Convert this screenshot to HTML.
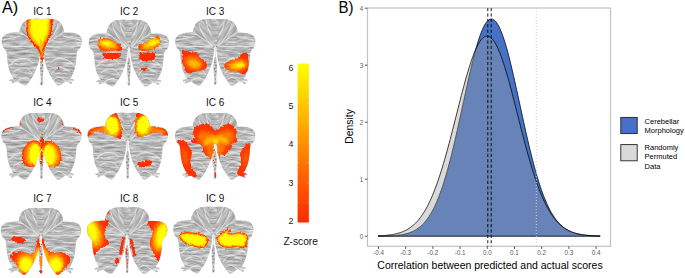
<!DOCTYPE html>
<html><head><meta charset="utf-8"><title>Figure</title>
<style>
html,body{margin:0;padding:0;background:#fff;}
body{width:685px;height:278px;overflow:hidden;}
svg{display:block;}
svg text{font-family:"Liberation Sans",sans-serif;}
</style></head><body>
<svg width="685" height="278" viewBox="0 0 685 278">
<defs>
<linearGradient id="cbg" x1="0" y1="0" x2="0" y2="1">
<stop offset="0" stop-color="#ffff00"/><stop offset="0.25" stop-color="#ffc800"/><stop offset="0.5" stop-color="#ff9000"/><stop offset="0.75" stop-color="#ff5800"/><stop offset="1" stop-color="#ff2a00"/>
</linearGradient>
<filter id="tex" x="-0.02" y="-0.02" width="1.04" height="1.04" color-interpolation-filters="sRGB">
<feTurbulence type="fractalNoise" baseFrequency="0.09 0.55" numOctaves="3" seed="7" result="n"/>
<feColorMatrix in="n" type="matrix" values="0.5 0 0 0 0.48  0.5 0 0 0 0.48  0.5 0 0 0 0.48  0 0 0 0 1" result="g"/>
<feComposite in="g" in2="SourceGraphic" operator="in"/>
</filter>
<filter id="b1" x="-0.5" y="-0.5" width="2" height="2"><feGaussianBlur stdDeviation="1"/></filter>
<filter id="b15" x="-0.5" y="-0.5" width="2" height="2"><feGaussianBlur stdDeviation="1.5"/></filter>
<filter id="b2" x="-0.5" y="-0.5" width="2" height="2"><feGaussianBlur stdDeviation="2.2"/></filter>
<filter id="b05" x="-0.5" y="-0.5" width="2" height="2"><feGaussianBlur stdDeviation="0.5"/></filter>
<filter id="tex2" x="0" y="0" width="1" height="1" color-interpolation-filters="sRGB">
<feTurbulence type="fractalNoise" baseFrequency="0.07 0.5" numOctaves="3" seed="11" result="n"/>
<feColorMatrix in="n" type="matrix" values="0.42 0 0 0 0.51  0.42 0 0 0 0.51  0.42 0 0 0 0.51  0 0 0 0 1"/>
</filter>
<clipPath id="bsh0"><path d="M0.00 0.70 C-0.33 0.62 -0.83 0.32 -2.00 0.20 C-3.17 0.08 -5.27 -0.05 -7.00 0.00 C-8.73 0.05 -10.83 0.13 -12.40 0.50 C-13.97 0.87 -15.23 1.43 -16.40 2.20 C-17.57 2.97 -18.60 4.03 -19.40 5.10 C-20.20 6.17 -20.75 7.52 -21.20 8.60 C-21.65 9.68 -22.00 10.77 -22.10 11.60 C-22.20 12.43 -21.85 13.27 -21.80 13.60 C-22.77 13.63 -25.67 13.67 -27.60 13.80 C-29.53 13.93 -31.77 14.00 -33.40 14.40 C-35.03 14.80 -36.37 15.40 -37.40 16.20 C-38.43 17.00 -39.13 18.13 -39.60 19.20 C-40.07 20.27 -40.18 21.47 -40.20 22.60 C-40.22 23.73 -40.00 24.93 -39.70 26.00 C-39.40 27.07 -39.02 28.08 -38.40 29.00 C-37.78 29.92 -36.57 30.50 -36.00 31.50 C-35.43 32.50 -35.27 33.27 -35.00 35.00 C-34.73 36.73 -34.75 39.38 -34.40 41.90 C-34.05 44.42 -33.60 47.60 -32.90 50.10 C-32.20 52.60 -31.02 55.20 -30.20 56.90 C-29.38 58.60 -28.37 59.73 -28.00 60.30 C-28.37 60.28 -29.50 60.08 -30.20 60.20 C-30.90 60.32 -31.90 60.63 -32.20 61.00 C-32.50 61.37 -32.43 62.17 -32.00 62.40 C-31.57 62.63 -29.83 62.13 -29.60 62.40 C-29.37 62.67 -30.63 63.57 -30.60 64.00 C-30.57 64.43 -30.03 65.07 -29.40 65.00 C-28.77 64.93 -27.70 64.00 -26.80 63.60 C-25.90 63.20 -24.47 62.77 -24.00 62.60 C-23.42 63.00 -21.70 64.28 -20.50 65.00 C-19.30 65.72 -17.85 66.87 -16.80 66.90 C-15.75 66.93 -15.03 66.02 -14.20 65.20 C-13.37 64.38 -12.70 63.32 -11.80 62.00 C-10.90 60.68 -9.87 59.25 -8.80 57.30 C-7.73 55.35 -6.32 52.52 -5.40 50.30 C-4.48 48.08 -3.85 46.05 -3.30 44.00 C-2.75 41.95 -2.42 39.83 -2.10 38.00 C-1.78 36.17 -1.58 34.42 -1.40 33.00 C-1.22 31.58 -1.10 30.42 -1.00 29.50 C-0.90 28.58 -0.83 27.83 -0.80 27.50 L0.8 27.5 C0.83 27.83 0.90 28.58 1.00 29.50 C1.10 30.42 1.22 31.58 1.40 33.00 C1.58 34.42 1.78 36.17 2.10 38.00 C2.42 39.83 2.75 41.95 3.30 44.00 C3.85 46.05 4.48 48.08 5.40 50.30 C6.32 52.52 7.73 55.35 8.80 57.30 C9.87 59.25 10.90 60.68 11.80 62.00 C12.70 63.32 13.37 64.38 14.20 65.20 C15.03 66.02 15.75 66.93 16.80 66.90 C17.85 66.87 19.30 65.72 20.50 65.00 C21.70 64.28 23.42 63.00 24.00 62.60 C24.47 62.77 25.90 63.20 26.80 63.60 C27.70 64.00 28.77 64.93 29.40 65.00 C30.03 65.07 30.57 64.43 30.60 64.00 C30.63 63.57 29.37 62.67 29.60 62.40 C29.83 62.13 31.57 62.63 32.00 62.40 C32.43 62.17 32.50 61.37 32.20 61.00 C31.90 60.63 30.90 60.32 30.20 60.20 C29.50 60.08 28.37 60.28 28.00 60.30 C28.37 59.73 29.38 58.60 30.20 56.90 C31.02 55.20 32.20 52.60 32.90 50.10 C33.60 47.60 34.05 44.42 34.40 41.90 C34.75 39.38 34.73 36.73 35.00 35.00 C35.27 33.27 35.43 32.50 36.00 31.50 C36.57 30.50 37.78 29.92 38.40 29.00 C39.02 28.08 39.40 27.07 39.70 26.00 C40.00 24.93 40.22 23.73 40.20 22.60 C40.18 21.47 40.07 20.27 39.60 19.20 C39.13 18.13 38.43 17.00 37.40 16.20 C36.37 15.40 35.03 14.80 33.40 14.40 C31.77 14.00 29.53 13.93 27.60 13.80 C25.67 13.67 22.77 13.63 21.80 13.60 C21.85 13.27 22.20 12.43 22.10 11.60 C22.00 10.77 21.65 9.68 21.20 8.60 C20.75 7.52 20.20 6.17 19.40 5.10 C18.60 4.03 17.57 2.97 16.40 2.20 C15.23 1.43 13.97 0.87 12.40 0.50 C10.83 0.13 8.73 0.05 7.00 0.00 C5.27 -0.05 3.17 0.08 2.00 0.20 C0.83 0.32 0.33 0.62 0.00 0.70Z"/></clipPath>
<clipPath id="tlL" clip-path="url(#bsh0)"><path d="M-0.0 -1 L-24 -1 L-24 13.6 L-21.8 13.6 L-15 18 L-8 23 L-2.5 27 L0 27Z"/></clipPath>
<clipPath id="tlR" clip-path="url(#bsh0)"><path d="M0.0 -1 L24 -1 L24 13.6 L21.8 13.6 L15 18 L8 23 L2.5 27 L0 27Z"/></clipPath>
<clipPath id="tlC" clip-path="url(#bsh0)"><path d="M-3.6 -1 L3.6 -1 L3.4 12 L1.5 26 L-1.5 26 L-3.4 12Z"/></clipPath>
<filter id="jag" x="-0.05" y="-0.05" width="1.1" height="1.1" color-interpolation-filters="sRGB">
<feTurbulence type="fractalNoise" baseFrequency="0.5" numOctaves="2" seed="5" result="t"/>
<feDisplacementMap in="SourceGraphic" in2="t" scale="3.2" xChannelSelector="R" yChannelSelector="G"/>
</filter>
<clipPath id="bclip"><path d="M0.00 0.70 C-0.33 0.62 -0.83 0.32 -2.00 0.20 C-3.17 0.08 -5.27 -0.05 -7.00 0.00 C-8.73 0.05 -10.83 0.13 -12.40 0.50 C-13.97 0.87 -15.23 1.43 -16.40 2.20 C-17.57 2.97 -18.60 4.03 -19.40 5.10 C-20.20 6.17 -20.75 7.52 -21.20 8.60 C-21.65 9.68 -22.00 10.77 -22.10 11.60 C-22.20 12.43 -21.85 13.27 -21.80 13.60 C-22.77 13.63 -25.67 13.67 -27.60 13.80 C-29.53 13.93 -31.77 14.00 -33.40 14.40 C-35.03 14.80 -36.37 15.40 -37.40 16.20 C-38.43 17.00 -39.13 18.13 -39.60 19.20 C-40.07 20.27 -40.18 21.47 -40.20 22.60 C-40.22 23.73 -40.00 24.93 -39.70 26.00 C-39.40 27.07 -39.02 28.08 -38.40 29.00 C-37.78 29.92 -36.57 30.50 -36.00 31.50 C-35.43 32.50 -35.27 33.27 -35.00 35.00 C-34.73 36.73 -34.75 39.38 -34.40 41.90 C-34.05 44.42 -33.60 47.60 -32.90 50.10 C-32.20 52.60 -31.02 55.20 -30.20 56.90 C-29.38 58.60 -28.37 59.73 -28.00 60.30 C-28.37 60.28 -29.50 60.08 -30.20 60.20 C-30.90 60.32 -31.90 60.63 -32.20 61.00 C-32.50 61.37 -32.43 62.17 -32.00 62.40 C-31.57 62.63 -29.83 62.13 -29.60 62.40 C-29.37 62.67 -30.63 63.57 -30.60 64.00 C-30.57 64.43 -30.03 65.07 -29.40 65.00 C-28.77 64.93 -27.70 64.00 -26.80 63.60 C-25.90 63.20 -24.47 62.77 -24.00 62.60 C-23.42 63.00 -21.70 64.28 -20.50 65.00 C-19.30 65.72 -17.85 66.87 -16.80 66.90 C-15.75 66.93 -15.03 66.02 -14.20 65.20 C-13.37 64.38 -12.70 63.32 -11.80 62.00 C-10.90 60.68 -9.87 59.25 -8.80 57.30 C-7.73 55.35 -6.32 52.52 -5.40 50.30 C-4.48 48.08 -3.85 46.05 -3.30 44.00 C-2.75 41.95 -2.42 39.83 -2.10 38.00 C-1.78 36.17 -1.58 34.42 -1.40 33.00 C-1.22 31.58 -1.10 30.42 -1.00 29.50 C-0.90 28.58 -0.83 27.83 -0.80 27.50 L0.8 27.5 C0.83 27.83 0.90 28.58 1.00 29.50 C1.10 30.42 1.22 31.58 1.40 33.00 C1.58 34.42 1.78 36.17 2.10 38.00 C2.42 39.83 2.75 41.95 3.30 44.00 C3.85 46.05 4.48 48.08 5.40 50.30 C6.32 52.52 7.73 55.35 8.80 57.30 C9.87 59.25 10.90 60.68 11.80 62.00 C12.70 63.32 13.37 64.38 14.20 65.20 C15.03 66.02 15.75 66.93 16.80 66.90 C17.85 66.87 19.30 65.72 20.50 65.00 C21.70 64.28 23.42 63.00 24.00 62.60 C24.47 62.77 25.90 63.20 26.80 63.60 C27.70 64.00 28.77 64.93 29.40 65.00 C30.03 65.07 30.57 64.43 30.60 64.00 C30.63 63.57 29.37 62.67 29.60 62.40 C29.83 62.13 31.57 62.63 32.00 62.40 C32.43 62.17 32.50 61.37 32.20 61.00 C31.90 60.63 30.90 60.32 30.20 60.20 C29.50 60.08 28.37 60.28 28.00 60.30 C28.37 59.73 29.38 58.60 30.20 56.90 C31.02 55.20 32.20 52.60 32.90 50.10 C33.60 47.60 34.05 44.42 34.40 41.90 C34.75 39.38 34.73 36.73 35.00 35.00 C35.27 33.27 35.43 32.50 36.00 31.50 C36.57 30.50 37.78 29.92 38.40 29.00 C39.02 28.08 39.40 27.07 39.70 26.00 C40.00 24.93 40.22 23.73 40.20 22.60 C40.18 21.47 40.07 20.27 39.60 19.20 C39.13 18.13 38.43 17.00 37.40 16.20 C36.37 15.40 35.03 14.80 33.40 14.40 C31.77 14.00 29.53 13.93 27.60 13.80 C25.67 13.67 22.77 13.63 21.80 13.60 C21.85 13.27 22.20 12.43 22.10 11.60 C22.00 10.77 21.65 9.68 21.20 8.60 C20.75 7.52 20.20 6.17 19.40 5.10 C18.60 4.03 17.57 2.97 16.40 2.20 C15.23 1.43 13.97 0.87 12.40 0.50 C10.83 0.13 8.73 0.05 7.00 0.00 C5.27 -0.05 3.17 0.08 2.00 0.20 C0.83 0.32 0.33 0.62 0.00 0.70Z"/><path d="M-1.0 27 L1.0 27 L1.3 42 L1.9 50 L1.5 58 L1.4 65.5 L-1.2 65.5 L-1.4 58 L-1.8 50 L-1.3 42 Z"/></clipPath>
<g id="cb">
<path d="M0.00 0.70 C-0.33 0.62 -0.83 0.32 -2.00 0.20 C-3.17 0.08 -5.27 -0.05 -7.00 0.00 C-8.73 0.05 -10.83 0.13 -12.40 0.50 C-13.97 0.87 -15.23 1.43 -16.40 2.20 C-17.57 2.97 -18.60 4.03 -19.40 5.10 C-20.20 6.17 -20.75 7.52 -21.20 8.60 C-21.65 9.68 -22.00 10.77 -22.10 11.60 C-22.20 12.43 -21.85 13.27 -21.80 13.60 C-22.77 13.63 -25.67 13.67 -27.60 13.80 C-29.53 13.93 -31.77 14.00 -33.40 14.40 C-35.03 14.80 -36.37 15.40 -37.40 16.20 C-38.43 17.00 -39.13 18.13 -39.60 19.20 C-40.07 20.27 -40.18 21.47 -40.20 22.60 C-40.22 23.73 -40.00 24.93 -39.70 26.00 C-39.40 27.07 -39.02 28.08 -38.40 29.00 C-37.78 29.92 -36.57 30.50 -36.00 31.50 C-35.43 32.50 -35.27 33.27 -35.00 35.00 C-34.73 36.73 -34.75 39.38 -34.40 41.90 C-34.05 44.42 -33.60 47.60 -32.90 50.10 C-32.20 52.60 -31.02 55.20 -30.20 56.90 C-29.38 58.60 -28.37 59.73 -28.00 60.30 C-28.37 60.28 -29.50 60.08 -30.20 60.20 C-30.90 60.32 -31.90 60.63 -32.20 61.00 C-32.50 61.37 -32.43 62.17 -32.00 62.40 C-31.57 62.63 -29.83 62.13 -29.60 62.40 C-29.37 62.67 -30.63 63.57 -30.60 64.00 C-30.57 64.43 -30.03 65.07 -29.40 65.00 C-28.77 64.93 -27.70 64.00 -26.80 63.60 C-25.90 63.20 -24.47 62.77 -24.00 62.60 C-23.42 63.00 -21.70 64.28 -20.50 65.00 C-19.30 65.72 -17.85 66.87 -16.80 66.90 C-15.75 66.93 -15.03 66.02 -14.20 65.20 C-13.37 64.38 -12.70 63.32 -11.80 62.00 C-10.90 60.68 -9.87 59.25 -8.80 57.30 C-7.73 55.35 -6.32 52.52 -5.40 50.30 C-4.48 48.08 -3.85 46.05 -3.30 44.00 C-2.75 41.95 -2.42 39.83 -2.10 38.00 C-1.78 36.17 -1.58 34.42 -1.40 33.00 C-1.22 31.58 -1.10 30.42 -1.00 29.50 C-0.90 28.58 -0.83 27.83 -0.80 27.50 L0.8 27.5 C0.83 27.83 0.90 28.58 1.00 29.50 C1.10 30.42 1.22 31.58 1.40 33.00 C1.58 34.42 1.78 36.17 2.10 38.00 C2.42 39.83 2.75 41.95 3.30 44.00 C3.85 46.05 4.48 48.08 5.40 50.30 C6.32 52.52 7.73 55.35 8.80 57.30 C9.87 59.25 10.90 60.68 11.80 62.00 C12.70 63.32 13.37 64.38 14.20 65.20 C15.03 66.02 15.75 66.93 16.80 66.90 C17.85 66.87 19.30 65.72 20.50 65.00 C21.70 64.28 23.42 63.00 24.00 62.60 C24.47 62.77 25.90 63.20 26.80 63.60 C27.70 64.00 28.77 64.93 29.40 65.00 C30.03 65.07 30.57 64.43 30.60 64.00 C30.63 63.57 29.37 62.67 29.60 62.40 C29.83 62.13 31.57 62.63 32.00 62.40 C32.43 62.17 32.50 61.37 32.20 61.00 C31.90 60.63 30.90 60.32 30.20 60.20 C29.50 60.08 28.37 60.28 28.00 60.30 C28.37 59.73 29.38 58.60 30.20 56.90 C31.02 55.20 32.20 52.60 32.90 50.10 C33.60 47.60 34.05 44.42 34.40 41.90 C34.75 39.38 34.73 36.73 35.00 35.00 C35.27 33.27 35.43 32.50 36.00 31.50 C36.57 30.50 37.78 29.92 38.40 29.00 C39.02 28.08 39.40 27.07 39.70 26.00 C40.00 24.93 40.22 23.73 40.20 22.60 C40.18 21.47 40.07 20.27 39.60 19.20 C39.13 18.13 38.43 17.00 37.40 16.20 C36.37 15.40 35.03 14.80 33.40 14.40 C31.77 14.00 29.53 13.93 27.60 13.80 C25.67 13.67 22.77 13.63 21.80 13.60 C21.85 13.27 22.20 12.43 22.10 11.60 C22.00 10.77 21.65 9.68 21.20 8.60 C20.75 7.52 20.20 6.17 19.40 5.10 C18.60 4.03 17.57 2.97 16.40 2.20 C15.23 1.43 13.97 0.87 12.40 0.50 C10.83 0.13 8.73 0.05 7.00 0.00 C5.27 -0.05 3.17 0.08 2.00 0.20 C0.83 0.32 0.33 0.62 0.00 0.70Z" fill="#b4b4b4" filter="url(#tex)"/>
<g clip-path="url(#tlL)"><rect x="-45" y="-45" width="90" height="90" transform="rotate(54)" fill="#b4b4b4" filter="url(#tex2)"/></g>
<g clip-path="url(#tlR)"><rect x="-45" y="-45" width="90" height="90" transform="rotate(-54)" fill="#b4b4b4" filter="url(#tex2)"/></g>
<g clip-path="url(#tlC)"><rect x="-5" y="-2" width="10" height="32" fill="#b4b4b4" filter="url(#tex)"/></g>
<path d="M-16.50 4.50 C-16.08 5.75 -15.25 9.42 -14.00 12.00 C-12.75 14.58 -10.83 17.58 -9.00 20.00 C-7.17 22.42 -4.00 25.42 -3.00 26.50M16.50 4.50 C16.08 5.75 15.25 9.42 14.00 12.00 C12.75 14.58 10.83 17.58 9.00 20.00 C7.17 22.42 4.00 25.42 3.00 26.50M-21.50 13.80 C-20.42 14.50 -17.25 16.47 -15.00 18.00 C-12.75 19.53 -10.08 21.50 -8.00 23.00 C-5.92 24.50 -3.42 26.33 -2.50 27.00M21.50 13.80 C20.42 14.50 17.25 16.47 15.00 18.00 C12.75 19.53 10.08 21.50 8.00 23.00 C5.92 24.50 3.42 26.33 2.50 27.00M-39.00 27.00 C-37.17 27.08 -32.17 27.42 -28.00 27.50 C-23.83 27.58 -18.17 27.45 -14.00 27.50 C-9.83 27.55 -4.83 27.75 -3.00 27.80M39.00 27.00 C37.17 27.08 32.17 27.42 28.00 27.50 C23.83 27.58 18.17 27.45 14.00 27.50 C9.83 27.55 4.83 27.75 3.00 27.80M-30.00 44.00 C-28.67 43.33 -24.67 40.58 -22.00 40.00 C-19.33 39.42 -16.17 39.83 -14.00 40.50 C-11.83 41.17 -9.83 43.42 -9.00 44.00M30.00 44.00 C28.67 43.33 24.67 40.58 22.00 40.00 C19.33 39.42 16.17 39.83 14.00 40.50 C11.83 41.17 9.83 43.42 9.00 44.00M-28.00 53.00 C-26.67 52.33 -22.50 49.33 -20.00 49.00 C-17.50 48.67 -14.67 50.00 -13.00 51.00 C-11.33 52.00 -10.50 54.33 -10.00 55.00M28.00 53.00 C26.67 52.33 22.50 49.33 20.00 49.00 C17.50 48.67 14.67 50.00 13.00 51.00 C11.33 52.00 10.50 54.33 10.00 55.00M-9.00 3.00 C-8.67 4.17 -7.83 7.83 -7.00 10.00 C-6.17 12.17 -4.50 15.00 -4.00 16.00M9.00 3.00 C8.67 4.17 7.83 7.83 7.00 10.00 C6.17 12.17 4.50 15.00 4.00 16.00M-24.00 62.00 C-22.83 61.42 -19.08 58.67 -17.00 58.50 C-14.92 58.33 -12.42 60.58 -11.50 61.00M24.00 62.00 C22.83 61.42 19.08 58.67 17.00 58.50 C14.92 58.33 12.42 60.58 11.50 61.00M-38.00 21.00 C-36.67 20.75 -32.67 20.08 -30.00 19.50 C-27.33 18.92 -23.33 17.83 -22.00 17.50M38.00 21.00 C36.67 20.75 32.67 20.08 30.00 19.50 C27.33 18.92 23.33 17.83 22.00 17.50M-33.00 47.00 C-32.33 46.58 -30.33 44.83 -29.00 44.50 C-27.67 44.17 -25.67 44.92 -25.00 45.00M33.00 47.00 C32.33 46.58 30.33 44.83 29.00 44.50 C27.67 44.17 25.67 44.92 25.00 45.00" fill="none" stroke="#f6f6f6" stroke-width="0.8" stroke-opacity="0.85" stroke-linecap="round"/>
<path d="M-36.20 31.30 C-34.33 31.28 -29.03 31.35 -25.00 31.20 C-20.97 31.05 -15.73 30.70 -12.00 30.40 C-8.27 30.10 -4.17 29.57 -2.60 29.40M36.20 31.30 C34.33 31.28 29.03 31.35 25.00 31.20 C20.97 31.05 15.73 30.70 12.00 30.40 C8.27 30.10 4.17 29.57 2.60 29.40M-37.00 22.00 C-35.50 21.67 -30.83 20.25 -28.00 20.00 C-25.17 19.75 -21.33 20.42 -20.00 20.50M37.00 22.00 C35.50 21.67 30.83 20.25 28.00 20.00 C25.17 19.75 21.33 20.42 20.00 20.50M-33.00 38.00 C-31.50 37.67 -27.17 36.50 -24.00 36.00 C-20.83 35.50 -15.67 35.17 -14.00 35.00M33.00 38.00 C31.50 37.67 27.17 36.50 24.00 36.00 C20.83 35.50 15.67 35.17 14.00 35.00M-25.00 58.00 C-24.00 57.50 -21.00 55.00 -19.00 55.00 C-17.00 55.00 -14.00 57.50 -13.00 58.00M25.00 58.00 C24.00 57.50 21.00 55.00 19.00 55.00 C17.00 55.00 14.00 57.50 13.00 58.00M-3.50 6.00 C-2.92 6.17 -1.17 7.00 0.00 7.00 C1.17 7.00 2.92 6.17 3.50 6.00M-3.50 11.00 C-2.92 11.20 -1.17 12.20 0.00 12.20 C1.17 12.20 2.92 11.20 3.50 11.00M-3.00 16.00 C-2.50 16.25 -1.00 17.50 0.00 17.50 C1.00 17.50 2.50 16.25 3.00 16.00" fill="none" stroke="#808080" stroke-width="0.6" stroke-opacity="0.65" stroke-linecap="round"/>
<g id="stem">
<path d="M0 27 L0 40" stroke="#dedede" stroke-width="0.9" fill="none"/>
<path d="M-0.7 38 L0.7 38 L1.5 43 L1.7 49 L1.3 55 L0.9 60 L1.2 64 L0.8 65.8 L-0.9 65.8 L-1.3 64 L-0.9 60 L-1.4 55 L-1.8 49 L-1.5 43 Z" fill="#b9b9b9"/>
<g fill="#7a7a7a"><circle cx="-0.5" cy="43.5" r="0.7"/><circle cx="0.6" cy="46.5" r="0.8"/><circle cx="-0.6" cy="49.5" r="0.8"/><circle cx="0.5" cy="52.5" r="0.7"/><circle cx="-0.3" cy="56" r="0.6"/><circle cx="0.2" cy="60" r="0.5"/><circle cx="0" cy="64.3" r="0.7"/></g>
<g fill="#f0f0f0"><circle cx="0.7" cy="44.5" r="0.6"/><circle cx="-0.7" cy="47.5" r="0.6"/><circle cx="0.7" cy="50.5" r="0.6"/><circle cx="-0.6" cy="54" r="0.5"/><circle cx="0.4" cy="58" r="0.5"/><circle cx="-0.3" cy="62" r="0.5"/></g>
</g>
</g>
</defs>
<defs><path id="bshape" d="M0.00 0.70 C-0.33 0.62 -0.83 0.32 -2.00 0.20 C-3.17 0.08 -5.27 -0.05 -7.00 0.00 C-8.73 0.05 -10.83 0.13 -12.40 0.50 C-13.97 0.87 -15.23 1.43 -16.40 2.20 C-17.57 2.97 -18.60 4.03 -19.40 5.10 C-20.20 6.17 -20.75 7.52 -21.20 8.60 C-21.65 9.68 -22.00 10.77 -22.10 11.60 C-22.20 12.43 -21.85 13.27 -21.80 13.60 C-22.77 13.63 -25.67 13.67 -27.60 13.80 C-29.53 13.93 -31.77 14.00 -33.40 14.40 C-35.03 14.80 -36.37 15.40 -37.40 16.20 C-38.43 17.00 -39.13 18.13 -39.60 19.20 C-40.07 20.27 -40.18 21.47 -40.20 22.60 C-40.22 23.73 -40.00 24.93 -39.70 26.00 C-39.40 27.07 -39.02 28.08 -38.40 29.00 C-37.78 29.92 -36.57 30.50 -36.00 31.50 C-35.43 32.50 -35.27 33.27 -35.00 35.00 C-34.73 36.73 -34.75 39.38 -34.40 41.90 C-34.05 44.42 -33.60 47.60 -32.90 50.10 C-32.20 52.60 -31.02 55.20 -30.20 56.90 C-29.38 58.60 -28.37 59.73 -28.00 60.30 C-28.37 60.28 -29.50 60.08 -30.20 60.20 C-30.90 60.32 -31.90 60.63 -32.20 61.00 C-32.50 61.37 -32.43 62.17 -32.00 62.40 C-31.57 62.63 -29.83 62.13 -29.60 62.40 C-29.37 62.67 -30.63 63.57 -30.60 64.00 C-30.57 64.43 -30.03 65.07 -29.40 65.00 C-28.77 64.93 -27.70 64.00 -26.80 63.60 C-25.90 63.20 -24.47 62.77 -24.00 62.60 C-23.42 63.00 -21.70 64.28 -20.50 65.00 C-19.30 65.72 -17.85 66.87 -16.80 66.90 C-15.75 66.93 -15.03 66.02 -14.20 65.20 C-13.37 64.38 -12.70 63.32 -11.80 62.00 C-10.90 60.68 -9.87 59.25 -8.80 57.30 C-7.73 55.35 -6.32 52.52 -5.40 50.30 C-4.48 48.08 -3.85 46.05 -3.30 44.00 C-2.75 41.95 -2.42 39.83 -2.10 38.00 C-1.78 36.17 -1.58 34.42 -1.40 33.00 C-1.22 31.58 -1.10 30.42 -1.00 29.50 C-0.90 28.58 -0.83 27.83 -0.80 27.50 L0.8 27.5 C0.83 27.83 0.90 28.58 1.00 29.50 C1.10 30.42 1.22 31.58 1.40 33.00 C1.58 34.42 1.78 36.17 2.10 38.00 C2.42 39.83 2.75 41.95 3.30 44.00 C3.85 46.05 4.48 48.08 5.40 50.30 C6.32 52.52 7.73 55.35 8.80 57.30 C9.87 59.25 10.90 60.68 11.80 62.00 C12.70 63.32 13.37 64.38 14.20 65.20 C15.03 66.02 15.75 66.93 16.80 66.90 C17.85 66.87 19.30 65.72 20.50 65.00 C21.70 64.28 23.42 63.00 24.00 62.60 C24.47 62.77 25.90 63.20 26.80 63.60 C27.70 64.00 28.77 64.93 29.40 65.00 C30.03 65.07 30.57 64.43 30.60 64.00 C30.63 63.57 29.37 62.67 29.60 62.40 C29.83 62.13 31.57 62.63 32.00 62.40 C32.43 62.17 32.50 61.37 32.20 61.00 C31.90 60.63 30.90 60.32 30.20 60.20 C29.50 60.08 28.37 60.28 28.00 60.30 C28.37 59.73 29.38 58.60 30.20 56.90 C31.02 55.20 32.20 52.60 32.90 50.10 C33.60 47.60 34.05 44.42 34.40 41.90 C34.75 39.38 34.73 36.73 35.00 35.00 C35.27 33.27 35.43 32.50 36.00 31.50 C36.57 30.50 37.78 29.92 38.40 29.00 C39.02 28.08 39.40 27.07 39.70 26.00 C40.00 24.93 40.22 23.73 40.20 22.60 C40.18 21.47 40.07 20.27 39.60 19.20 C39.13 18.13 38.43 17.00 37.40 16.20 C36.37 15.40 35.03 14.80 33.40 14.40 C31.77 14.00 29.53 13.93 27.60 13.80 C25.67 13.67 22.77 13.63 21.80 13.60 C21.85 13.27 22.20 12.43 22.10 11.60 C22.00 10.77 21.65 9.68 21.20 8.60 C20.75 7.52 20.20 6.17 19.40 5.10 C18.60 4.03 17.57 2.97 16.40 2.20 C15.23 1.43 13.97 0.87 12.40 0.50 C10.83 0.13 8.73 0.05 7.00 0.00 C5.27 -0.05 3.17 0.08 2.00 0.20 C0.83 0.32 0.33 0.62 0.00 0.70Z"/><path id="bstem" d="M-2.2 27 L2.2 27 L2.6 66.5 L-2.6 66.5Z"/><clipPath id="c1"><path d="M28.50 14.00 C30.73 12.07 36.10 13.60 40.00 13.60 C43.90 13.60 49.87 12.07 51.90 14.00 C53.93 15.93 52.27 22.08 52.20 25.20 C52.13 28.32 51.98 30.52 51.50 32.70 C51.02 34.88 50.13 36.43 49.30 38.30 C48.47 40.17 47.28 42.18 46.50 43.90 C45.72 45.62 45.10 46.88 44.60 48.60 C44.10 50.32 43.83 52.17 43.50 54.20 C43.17 56.23 42.95 59.70 42.60 60.80 C42.25 61.90 41.85 62.05 41.40 60.80 C40.95 59.55 40.62 55.33 39.90 53.30 C39.18 51.27 38.33 50.17 37.10 48.60 C35.87 47.03 33.90 45.62 32.50 43.90 C31.10 42.18 29.70 40.17 28.70 38.30 C27.70 36.43 26.85 34.88 26.50 32.70 C26.15 30.52 26.27 28.32 26.60 25.20 C26.93 22.08 26.27 15.93 28.50 14.00Z"/></clipPath>
<clipPath id="c2"><path d="M98.10 42.10 C98.37 40.88 98.75 39.62 99.70 38.90 C100.65 38.18 101.90 37.72 103.80 37.80 C105.70 37.88 108.82 38.53 111.10 39.40 C113.38 40.27 115.72 41.83 117.50 43.00 C119.28 44.17 121.15 45.13 121.80 46.40 C122.45 47.67 122.65 49.78 121.40 50.60 C120.15 51.42 116.83 51.22 114.30 51.30 C111.77 51.38 108.50 51.35 106.20 51.10 C103.90 50.85 101.85 50.62 100.50 49.80 C99.15 48.98 98.50 47.48 98.10 46.20 C97.70 44.92 97.83 43.32 98.10 42.10Z"/></clipPath>
<clipPath id="c3"><path d="M102.60 53.00 C103.80 52.22 108.10 52.80 111.00 52.80 C113.90 52.80 118.43 52.48 120.00 53.00 C121.57 53.52 120.82 54.93 120.40 55.90 C119.98 56.87 119.60 58.20 117.50 58.80 C115.40 59.40 110.08 59.72 107.80 59.50 C105.52 59.28 104.67 58.58 103.80 57.50 C102.93 56.42 101.40 53.78 102.60 53.00Z"/></clipPath>
<clipPath id="c4"><path d="M138.30 46.20 C138.83 44.85 141.20 43.82 143.40 42.60 C145.60 41.38 149.20 39.92 151.50 38.90 C153.80 37.88 155.78 36.63 157.20 36.50 C158.62 36.37 159.53 37.02 160.00 38.10 C160.47 39.18 160.47 41.43 160.00 43.00 C159.53 44.57 158.88 46.30 157.20 47.50 C155.52 48.70 152.73 49.67 149.90 50.20 C147.07 50.73 142.13 51.37 140.20 50.70 C138.27 50.03 137.77 47.55 138.30 46.20Z"/></clipPath>
<clipPath id="c5"><path d="M139.40 53.00 C140.67 52.03 144.57 52.62 147.00 52.50 C149.43 52.38 152.65 51.73 154.00 52.30 C155.35 52.87 155.18 54.62 155.10 55.90 C155.02 57.18 155.72 59.13 153.50 60.00 C151.28 60.87 144.15 61.38 141.80 61.10 C139.45 60.82 139.80 59.65 139.40 58.30 C139.00 56.95 138.13 53.97 139.40 53.00Z"/></clipPath>
<clipPath id="c6"><path d="M182.50 50.50 C183.77 49.60 186.67 51.00 189.20 51.50 C191.73 52.00 196.00 52.60 197.70 53.50 C199.40 54.40 198.13 55.63 199.40 56.90 C200.67 58.17 204.03 59.68 205.30 61.10 C206.57 62.52 207.00 64.07 207.00 65.40 C207.00 66.73 206.85 68.12 205.30 69.10 C203.75 70.08 200.38 70.57 197.70 71.30 C195.02 72.03 191.18 73.65 189.20 73.50 C187.22 73.35 186.92 72.03 185.80 70.40 C184.68 68.77 183.20 65.95 182.50 63.70 C181.80 61.45 181.60 59.10 181.60 56.90 C181.60 54.70 181.23 51.40 182.50 50.50Z"/></clipPath>
<clipPath id="c7"><path d="M224.70 63.70 C225.83 62.43 229.25 61.30 231.50 60.30 C233.75 59.30 236.52 58.83 238.20 57.70 C239.88 56.57 240.18 54.33 241.60 53.50 C243.02 52.67 245.57 52.13 246.70 52.70 C247.83 53.27 248.07 54.78 248.40 56.90 C248.73 59.02 248.85 63.00 248.70 65.40 C248.55 67.80 248.40 69.77 247.50 71.30 C246.60 72.83 244.85 74.47 243.30 74.60 C241.75 74.73 240.45 72.80 238.20 72.10 C235.95 71.40 232.05 71.10 229.80 70.40 C227.55 69.70 225.55 69.02 224.70 67.90 C223.85 66.78 223.57 64.97 224.70 63.70Z"/></clipPath>
<clipPath id="c8"><path d="M29.60 141.40 C31.45 140.52 34.53 140.15 36.30 140.50 C38.07 140.85 39.42 141.88 40.20 143.50 C40.98 145.12 40.93 147.95 41.00 150.20 C41.07 152.45 41.00 154.75 40.60 157.00 C40.20 159.25 39.57 162.08 38.60 163.70 C37.63 165.32 36.62 166.20 34.80 166.70 C32.98 167.20 29.62 167.28 27.70 166.70 C25.78 166.12 24.32 164.82 23.30 163.20 C22.28 161.58 21.75 159.02 21.60 157.00 C21.45 154.98 21.80 152.97 22.40 151.10 C23.00 149.23 24.00 147.42 25.20 145.80 C26.40 144.18 27.75 142.28 29.60 141.40Z"/></clipPath>
<clipPath id="c9"><path d="M43.60 142.40 C44.97 140.87 48.50 140.60 50.70 141.00 C52.90 141.40 55.20 143.27 56.80 144.80 C58.40 146.33 59.50 148.17 60.30 150.20 C61.10 152.23 61.47 155.03 61.60 157.00 C61.73 158.97 61.73 160.53 61.10 162.00 C60.47 163.47 59.53 164.88 57.80 165.80 C56.07 166.72 52.57 167.80 50.70 167.50 C48.83 167.20 47.72 165.75 46.60 164.00 C45.48 162.25 44.68 159.30 44.00 157.00 C43.32 154.70 42.57 152.63 42.50 150.20 C42.43 147.77 42.23 143.93 43.60 142.40Z"/></clipPath>
<clipPath id="c10"><path d="M40.40 139.00 C40.72 137.58 41.70 136.42 42.30 136.50 C42.90 136.58 43.78 138.08 44.00 139.50 C44.22 140.92 43.83 143.42 43.60 145.00 C43.37 146.58 42.97 148.33 42.60 149.00 C42.23 149.67 41.77 149.67 41.40 149.00 C41.03 148.33 40.57 146.67 40.40 145.00 C40.23 143.33 40.08 140.42 40.40 139.00Z"/></clipPath>
<clipPath id="c11"><path d="M116.40 112.90 C115.13 112.47 112.27 113.02 110.50 113.80 C108.73 114.58 106.78 116.10 105.80 117.60 C104.82 119.10 105.17 121.40 104.60 122.80 C104.03 124.20 103.82 125.27 102.40 126.00 C100.98 126.73 98.13 126.70 96.10 127.20 C94.07 127.70 91.77 128.12 90.20 129.00 C88.63 129.88 87.23 131.35 86.70 132.50 C86.17 133.65 86.27 135.48 87.00 135.90 C87.73 136.32 89.58 135.57 91.10 135.00 C92.62 134.43 94.13 132.92 96.10 132.50 C98.07 132.08 100.92 132.22 102.90 132.50 C104.88 132.78 106.32 133.50 108.00 134.20 C109.68 134.90 111.03 136.00 113.00 136.70 C114.97 137.40 118.25 138.68 119.80 138.40 C121.35 138.12 121.97 136.68 122.30 135.00 C122.63 133.32 122.08 130.55 121.80 128.30 C121.52 126.05 121.22 123.48 120.60 121.50 C119.98 119.52 118.80 117.83 118.10 116.40 C117.40 114.97 117.67 113.33 116.40 112.90Z"/></clipPath>
<clipPath id="c12"><path d="M136.70 112.90 C137.92 111.83 140.82 112.75 142.60 113.40 C144.38 114.05 146.23 115.37 147.40 116.80 C148.57 118.23 148.90 120.47 149.60 122.00 C150.30 123.53 150.38 125.13 151.60 126.00 C152.82 126.87 154.88 126.80 156.90 127.20 C158.92 127.60 161.75 127.73 163.70 128.40 C165.65 129.07 167.63 129.95 168.60 131.20 C169.57 132.45 170.03 135.27 169.50 135.90 C168.97 136.53 166.93 135.48 165.40 135.00 C163.87 134.52 162.27 133.33 160.30 133.00 C158.33 132.67 155.57 132.72 153.60 133.00 C151.63 133.28 150.20 134.08 148.50 134.70 C146.80 135.32 145.08 136.30 143.40 136.70 C141.72 137.10 139.75 137.67 138.40 137.10 C137.05 136.53 135.87 135.05 135.30 133.30 C134.73 131.55 135.00 128.85 135.00 126.60 C135.00 124.35 135.02 122.08 135.30 119.80 C135.58 117.52 135.48 113.97 136.70 112.90Z"/></clipPath>
<clipPath id="c13"><path d="M137.50 162.00 C138.33 161.07 141.28 161.53 143.40 161.20 C145.52 160.87 148.73 159.87 150.20 160.00 C151.67 160.13 152.20 161.10 152.20 162.00 C152.20 162.90 151.67 164.50 150.20 165.40 C148.73 166.30 145.37 167.17 143.40 167.40 C141.43 167.63 139.38 167.70 138.40 166.80 C137.42 165.90 136.67 162.93 137.50 162.00Z"/></clipPath>
<clipPath id="c14"><path d="M192.90 132.70 C193.18 130.97 194.07 128.05 195.50 126.60 C196.93 125.15 199.35 124.48 201.50 124.00 C203.65 123.52 206.67 123.27 208.40 123.70 C210.13 124.13 210.90 125.60 211.90 126.60 C212.90 127.60 213.60 129.12 214.40 129.70 C215.20 130.28 215.83 130.33 216.70 130.10 C217.57 129.87 218.53 129.17 219.60 128.30 C220.67 127.43 221.52 125.67 223.10 124.90 C224.68 124.13 227.23 123.42 229.10 123.70 C230.97 123.98 233.00 125.25 234.30 126.60 C235.60 127.95 236.62 130.07 236.90 131.80 C237.18 133.53 235.83 135.42 236.00 137.00 C236.17 138.58 238.43 140.15 237.90 141.30 C237.37 142.45 233.88 142.75 232.80 143.90 C231.72 145.05 232.27 146.77 231.40 148.20 C230.53 149.63 228.98 151.32 227.60 152.50 C226.22 153.68 224.28 155.13 223.10 155.30 C221.92 155.47 221.12 152.72 220.50 153.50 C219.88 154.28 219.82 160.25 219.40 160.00 C218.98 159.75 218.40 154.58 218.00 152.00 C217.60 149.42 217.62 145.75 217.00 144.50 C216.38 143.25 214.85 143.25 214.30 144.50 C213.75 145.75 213.88 149.42 213.70 152.00 C213.52 154.58 213.45 157.17 213.20 160.00 C212.95 162.83 212.50 169.00 212.20 169.00 C211.90 169.00 211.93 162.00 211.40 160.00 C210.87 158.00 209.97 157.78 209.00 157.00 C208.03 156.22 206.60 156.20 205.60 155.30 C204.60 154.40 203.57 153.05 203.00 151.60 C202.43 150.15 203.02 147.85 202.20 146.60 C201.38 145.35 200.03 144.82 198.10 144.10 C196.17 143.38 191.32 143.48 190.60 142.30 C189.88 141.12 193.42 138.60 193.80 137.00 C194.18 135.40 192.62 134.43 192.90 132.70Z"/></clipPath>
<clipPath id="c15"><path d="M177.50 141.00 C176.40 142.90 177.13 148.60 177.40 151.90 C177.67 155.20 177.97 157.82 179.10 160.80 C180.23 163.78 182.22 166.85 184.20 169.80 C186.18 172.75 188.97 177.65 191.00 178.50 C193.03 179.35 196.13 176.52 196.40 174.90 C196.67 173.28 193.63 170.67 192.60 168.80 C191.57 166.93 190.43 165.40 190.20 163.70 C189.97 162.00 190.93 160.57 191.20 158.60 C191.47 156.63 192.27 154.15 191.80 151.90 C191.33 149.65 189.70 147.00 188.40 145.10 C187.10 143.20 185.82 141.18 184.00 140.50 C182.18 139.82 178.60 139.10 177.50 141.00Z"/></clipPath>
<clipPath id="c16"><path d="M250.00 143.50 C251.35 144.93 253.00 150.43 253.50 153.60 C254.00 156.77 253.70 159.80 253.00 162.50 C252.30 165.20 251.13 167.27 249.30 169.80 C247.47 172.33 244.05 177.13 242.00 177.70 C239.95 178.27 237.43 174.97 237.00 173.20 C236.57 171.43 238.77 169.25 239.40 167.10 C240.03 164.95 240.70 162.55 240.80 160.30 C240.90 158.05 239.70 155.48 240.00 153.60 C240.30 151.72 241.70 150.43 242.60 149.00 C243.50 147.57 244.17 145.92 245.40 145.00 C246.63 144.08 248.65 142.07 250.00 143.50Z"/></clipPath>
<clipPath id="c17"><path d="M9.90 238.80 C10.20 237.98 13.20 236.90 15.30 236.60 C17.40 236.30 20.85 236.48 22.50 237.00 C24.15 237.52 25.05 238.75 25.20 239.70 C25.35 240.65 24.60 242.10 23.40 242.70 C22.20 243.30 19.65 243.50 18.00 243.30 C16.35 243.10 14.85 242.25 13.50 241.50 C12.15 240.75 9.60 239.62 9.90 238.80Z"/></clipPath>
<clipPath id="c18"><path d="M11.70 254.10 C12.80 252.83 15.75 251.70 18.00 251.40 C20.25 251.10 23.07 251.77 25.20 252.30 C27.33 252.83 29.17 255.05 30.80 254.60 C32.43 254.15 34.00 251.63 35.00 249.60 C36.00 247.57 36.25 244.50 36.80 242.40 C37.35 240.30 37.75 236.70 38.30 237.00 C38.85 237.30 39.97 241.50 40.10 244.20 C40.23 246.90 39.82 250.20 39.10 253.20 C38.38 256.20 37.08 259.50 35.80 262.20 C34.52 264.90 33.03 267.02 31.40 269.40 C29.77 271.78 27.33 274.98 26.00 276.50 C24.67 278.02 24.50 279.62 23.40 278.50 C22.30 277.38 20.80 272.38 19.40 269.80 C18.00 267.22 16.33 264.80 15.00 263.00 C13.67 261.20 11.95 260.48 11.40 259.00 C10.85 257.52 10.60 255.37 11.70 254.10Z"/></clipPath>
<clipPath id="c19"><path d="M43.20 237.00 C43.77 237.60 44.40 243.78 45.40 246.00 C46.40 248.22 47.77 249.13 49.20 250.30 C50.63 251.47 52.00 252.70 54.00 253.00 C56.00 253.30 58.97 251.80 61.20 252.10 C63.43 252.40 65.87 253.72 67.40 254.80 C68.93 255.88 70.08 257.17 70.40 258.60 C70.72 260.03 70.43 261.53 69.30 263.40 C68.17 265.27 65.48 267.57 63.60 269.80 C61.72 272.03 59.37 275.35 58.00 276.80 C56.63 278.25 56.17 279.58 55.40 278.50 C54.63 277.42 54.47 272.72 53.40 270.30 C52.33 267.88 50.32 266.25 49.00 264.00 C47.68 261.75 46.50 259.50 45.50 256.80 C44.50 254.10 43.58 250.20 43.00 247.80 C42.42 245.40 41.97 244.20 42.00 242.40 C42.03 240.60 42.63 236.40 43.20 237.00Z"/></clipPath>
<clipPath id="c20"><path d="M84.50 227.40 C85.28 225.52 86.58 222.87 89.20 221.50 C91.82 220.13 97.32 219.65 100.20 219.20 C103.08 218.75 105.07 218.03 106.50 218.80 C107.93 219.57 109.00 222.07 108.80 223.80 C108.60 225.53 106.00 227.40 105.30 229.20 C104.60 231.00 104.32 232.80 104.60 234.60 C104.88 236.40 106.27 238.68 107.00 240.00 C107.73 241.32 109.17 241.48 109.00 242.50 C108.83 243.52 107.30 245.10 106.00 246.10 C104.70 247.10 102.58 247.58 101.20 248.50 C99.82 249.42 98.82 250.43 97.70 251.60 C96.58 252.77 95.87 255.77 94.50 255.50 C93.13 255.23 90.75 252.78 89.50 250.00 C88.25 247.22 87.83 241.67 87.00 238.80 C86.17 235.93 84.92 234.70 84.50 232.80 C84.08 230.90 83.72 229.28 84.50 227.40Z"/></clipPath>
<clipPath id="c21"><path d="M147.00 222.00 C147.40 220.87 150.30 220.73 152.40 220.60 C154.50 220.47 157.13 220.68 159.60 221.20 C162.07 221.72 165.37 222.37 167.20 223.70 C169.03 225.03 170.18 227.53 170.60 229.20 C171.02 230.87 170.30 232.10 169.70 233.70 C169.10 235.30 167.83 236.15 167.00 238.80 C166.17 241.45 165.45 246.45 164.70 249.60 C163.95 252.75 163.50 255.63 162.50 257.70 C161.50 259.77 159.92 262.28 158.70 262.00 C157.48 261.72 156.38 257.97 155.20 256.00 C154.02 254.03 152.50 252.47 151.60 250.20 C150.70 247.93 149.83 244.77 149.80 242.40 C149.77 240.03 150.95 237.60 151.40 236.00 C151.85 234.40 152.73 234.23 152.50 232.80 C152.27 231.37 150.92 229.20 150.00 227.40 C149.08 225.60 146.60 223.13 147.00 222.00Z"/></clipPath>
<clipPath id="c22"><path d="M179.00 235.50 C179.33 234.07 182.00 233.05 184.40 232.60 C186.80 232.15 190.10 232.40 193.40 232.80 C196.70 233.20 201.73 233.95 204.20 235.00 C206.67 236.05 207.68 237.63 208.20 239.10 C208.72 240.57 208.08 242.38 207.30 243.80 C206.52 245.22 205.52 247.08 203.50 247.60 C201.48 248.12 197.78 247.32 195.20 246.90 C192.62 246.48 190.13 246.05 188.00 245.10 C185.87 244.15 183.90 242.80 182.40 241.20 C180.90 239.60 178.67 236.93 179.00 235.50Z"/></clipPath>
<clipPath id="c23"><path d="M216.90 237.30 C217.68 235.73 220.42 233.98 222.20 232.60 C223.98 231.22 226.22 229.27 227.60 229.00 C228.98 228.73 230.28 230.28 230.50 231.00 C230.72 231.72 227.58 233.07 228.90 233.30 C230.22 233.53 235.73 232.40 238.40 232.40 C241.07 232.40 243.33 232.48 244.90 233.30 C246.47 234.12 247.47 235.70 247.80 237.30 C248.13 238.90 247.53 241.18 246.90 242.90 C246.27 244.62 245.72 246.93 244.00 247.60 C242.28 248.27 239.33 246.87 236.60 246.90 C233.87 246.93 230.18 247.98 227.60 247.80 C225.02 247.62 222.78 246.77 221.10 245.80 C219.42 244.83 218.20 243.42 217.50 242.00 C216.80 240.58 216.12 238.87 216.90 237.30Z"/></clipPath>
<clipPath id="mc1"><use href="#bshape" transform="translate(41.8 18.8)"/><use href="#bstem" transform="translate(41.8 18.8)"/></clipPath>
<clipPath id="mc2"><use href="#bshape" transform="translate(128.9 19.8)"/><use href="#bstem" transform="translate(128.9 19.8)"/></clipPath>
<clipPath id="mc3"><use href="#bshape" transform="translate(215.3 19.0)"/><use href="#bstem" transform="translate(215.3 19.0)"/></clipPath>
<clipPath id="mc4"><use href="#bshape" transform="translate(41.5 113.0)"/><use href="#bstem" transform="translate(41.5 113.0)"/></clipPath>
<clipPath id="mc5"><use href="#bshape" transform="translate(127.7 112.7)"/><use href="#bstem" transform="translate(127.7 112.7)"/></clipPath>
<clipPath id="mc6"><use href="#bshape" transform="translate(215.1 113.0)"/><use href="#bstem" transform="translate(215.1 113.0)"/></clipPath>
<clipPath id="mc7"><use href="#bshape" transform="translate(41.0 207.9)"/><use href="#bstem" transform="translate(41.0 207.9)"/></clipPath>
<clipPath id="mc8"><use href="#bshape" transform="translate(127.2 207.2)"/><use href="#bstem" transform="translate(127.2 207.2)"/></clipPath>
<clipPath id="mc9"><use href="#bshape" transform="translate(213.4 206.7)"/><use href="#bstem" transform="translate(213.4 206.7)"/></clipPath></defs>
<rect width="685" height="278" fill="#fff"/>
<g id="maps">
<use href="#cb" transform="translate(41.8 18.8)"/>
<g clip-path="url(#mc1)" filter="url(#jag)"><g clip-path="url(#c1)"><path d="M28.50 14.00 C30.73 12.07 36.10 13.60 40.00 13.60 C43.90 13.60 49.87 12.07 51.90 14.00 C53.93 15.93 52.27 22.08 52.20 25.20 C52.13 28.32 51.98 30.52 51.50 32.70 C51.02 34.88 50.13 36.43 49.30 38.30 C48.47 40.17 47.28 42.18 46.50 43.90 C45.72 45.62 45.10 46.88 44.60 48.60 C44.10 50.32 43.83 52.17 43.50 54.20 C43.17 56.23 42.95 59.70 42.60 60.80 C42.25 61.90 41.85 62.05 41.40 60.80 C40.95 59.55 40.62 55.33 39.90 53.30 C39.18 51.27 38.33 50.17 37.10 48.60 C35.87 47.03 33.90 45.62 32.50 43.90 C31.10 42.18 29.70 40.17 28.70 38.30 C27.70 36.43 26.85 34.88 26.50 32.70 C26.15 30.52 26.27 28.32 26.60 25.20 C26.93 22.08 26.27 15.93 28.50 14.00Z" fill="#ffff00"/><path d="M28.50 14.00 C30.73 12.07 36.10 13.60 40.00 13.60 C43.90 13.60 49.87 12.07 51.90 14.00 C53.93 15.93 52.27 22.08 52.20 25.20 C52.13 28.32 51.98 30.52 51.50 32.70 C51.02 34.88 50.13 36.43 49.30 38.30 C48.47 40.17 47.28 42.18 46.50 43.90 C45.72 45.62 45.10 46.88 44.60 48.60 C44.10 50.32 43.83 52.17 43.50 54.20 C43.17 56.23 42.95 59.70 42.60 60.80 C42.25 61.90 41.85 62.05 41.40 60.80 C40.95 59.55 40.62 55.33 39.90 53.30 C39.18 51.27 38.33 50.17 37.10 48.60 C35.87 47.03 33.90 45.62 32.50 43.90 C31.10 42.18 29.70 40.17 28.70 38.30 C27.70 36.43 26.85 34.88 26.50 32.70 C26.15 30.52 26.27 28.32 26.60 25.20 C26.93 22.08 26.27 15.93 28.50 14.00Z" fill="none" stroke="#ffc400" stroke-width="8.0" stroke-linejoin="round" filter="url(#b1)"/><path d="M28.50 14.00 C30.73 12.07 36.10 13.60 40.00 13.60 C43.90 13.60 49.87 12.07 51.90 14.00 C53.93 15.93 52.27 22.08 52.20 25.20 C52.13 28.32 51.98 30.52 51.50 32.70 C51.02 34.88 50.13 36.43 49.30 38.30 C48.47 40.17 47.28 42.18 46.50 43.90 C45.72 45.62 45.10 46.88 44.60 48.60 C44.10 50.32 43.83 52.17 43.50 54.20 C43.17 56.23 42.95 59.70 42.60 60.80 C42.25 61.90 41.85 62.05 41.40 60.80 C40.95 59.55 40.62 55.33 39.90 53.30 C39.18 51.27 38.33 50.17 37.10 48.60 C35.87 47.03 33.90 45.62 32.50 43.90 C31.10 42.18 29.70 40.17 28.70 38.30 C27.70 36.43 26.85 34.88 26.50 32.70 C26.15 30.52 26.27 28.32 26.60 25.20 C26.93 22.08 26.27 15.93 28.50 14.00Z" fill="none" stroke="#ff8a00" stroke-width="6.0" stroke-linejoin="round" filter="url(#b1)"/><path d="M28.50 14.00 C30.73 12.07 36.10 13.60 40.00 13.60 C43.90 13.60 49.87 12.07 51.90 14.00 C53.93 15.93 52.27 22.08 52.20 25.20 C52.13 28.32 51.98 30.52 51.50 32.70 C51.02 34.88 50.13 36.43 49.30 38.30 C48.47 40.17 47.28 42.18 46.50 43.90 C45.72 45.62 45.10 46.88 44.60 48.60 C44.10 50.32 43.83 52.17 43.50 54.20 C43.17 56.23 42.95 59.70 42.60 60.80 C42.25 61.90 41.85 62.05 41.40 60.80 C40.95 59.55 40.62 55.33 39.90 53.30 C39.18 51.27 38.33 50.17 37.10 48.60 C35.87 47.03 33.90 45.62 32.50 43.90 C31.10 42.18 29.70 40.17 28.70 38.30 C27.70 36.43 26.85 34.88 26.50 32.70 C26.15 30.52 26.27 28.32 26.60 25.20 C26.93 22.08 26.27 15.93 28.50 14.00Z" fill="none" stroke="#ff2c00" stroke-width="3.2" stroke-linejoin="round" filter="url(#b05)"/></g><path d="M40.60 40.00 C40.73 41.17 41.20 44.83 41.40 47.00 C41.60 49.17 41.73 52.00 41.80 53.00" fill="none" stroke="#ffc400" stroke-width="2.0" stroke-linecap="round"/><path d="M41.80 52.00 C41.83 52.83 41.97 56.17 42.00 57.00" fill="none" stroke="#ff8a00" stroke-width="1.2" stroke-linecap="round"/><ellipse cx="58.3" cy="68.4" rx="1.2" ry="0.8" fill="#ff2c00" transform="rotate(0 58.3 68.4)"/><ellipse cx="41.8" cy="84.3" rx="1.2" ry="1.0" fill="#ff2c00" transform="rotate(0 41.8 84.3)"/></g>
<text x="42.5" y="14.8" font-size="10" fill="#111" text-anchor="middle">IC 1</text>
<use href="#cb" transform="translate(128.9 19.8)"/>
<g clip-path="url(#mc2)" filter="url(#jag)"><g clip-path="url(#c2)"><path d="M98.10 42.10 C98.37 40.88 98.75 39.62 99.70 38.90 C100.65 38.18 101.90 37.72 103.80 37.80 C105.70 37.88 108.82 38.53 111.10 39.40 C113.38 40.27 115.72 41.83 117.50 43.00 C119.28 44.17 121.15 45.13 121.80 46.40 C122.45 47.67 122.65 49.78 121.40 50.60 C120.15 51.42 116.83 51.22 114.30 51.30 C111.77 51.38 108.50 51.35 106.20 51.10 C103.90 50.85 101.85 50.62 100.50 49.80 C99.15 48.98 98.50 47.48 98.10 46.20 C97.70 44.92 97.83 43.32 98.10 42.10Z" fill="#ff2c00"/><ellipse cx="108.0" cy="44.6" rx="11.0" ry="5.4" fill="#ff8a00" transform="rotate(14 108.0 44.6)" filter="url(#b15)"/><ellipse cx="107.5" cy="44.0" rx="8.5" ry="3.5" fill="#ffc400" transform="rotate(13 107.5 44.0)" filter="url(#b1)"/><ellipse cx="106.5" cy="43.4" rx="5.0" ry="1.9" fill="#ffff00" transform="rotate(12 106.5 43.4)" filter="url(#b1)"/></g><g clip-path="url(#c3)"><path d="M102.60 53.00 C103.80 52.22 108.10 52.80 111.00 52.80 C113.90 52.80 118.43 52.48 120.00 53.00 C121.57 53.52 120.82 54.93 120.40 55.90 C119.98 56.87 119.60 58.20 117.50 58.80 C115.40 59.40 110.08 59.72 107.80 59.50 C105.52 59.28 104.67 58.58 103.80 57.50 C102.93 56.42 101.40 53.78 102.60 53.00Z" fill="#ff2c00"/></g><g clip-path="url(#c4)"><path d="M138.30 46.20 C138.83 44.85 141.20 43.82 143.40 42.60 C145.60 41.38 149.20 39.92 151.50 38.90 C153.80 37.88 155.78 36.63 157.20 36.50 C158.62 36.37 159.53 37.02 160.00 38.10 C160.47 39.18 160.47 41.43 160.00 43.00 C159.53 44.57 158.88 46.30 157.20 47.50 C155.52 48.70 152.73 49.67 149.90 50.20 C147.07 50.73 142.13 51.37 140.20 50.70 C138.27 50.03 137.77 47.55 138.30 46.20Z" fill="#ff2c00"/><ellipse cx="150.5" cy="44.0" rx="11.5" ry="5.2" fill="#ff8a00" transform="rotate(-22 150.5 44.0)" filter="url(#b15)"/><ellipse cx="152.0" cy="43.4" rx="8.8" ry="3.5" fill="#ffc400" transform="rotate(-22 152.0 43.4)" filter="url(#b1)"/><ellipse cx="153.6" cy="42.6" rx="5.2" ry="2.0" fill="#ffff00" transform="rotate(-22 153.6 42.6)" filter="url(#b1)"/></g><g clip-path="url(#c5)"><path d="M139.40 53.00 C140.67 52.03 144.57 52.62 147.00 52.50 C149.43 52.38 152.65 51.73 154.00 52.30 C155.35 52.87 155.18 54.62 155.10 55.90 C155.02 57.18 155.72 59.13 153.50 60.00 C151.28 60.87 144.15 61.38 141.80 61.10 C139.45 60.82 139.80 59.65 139.40 58.30 C139.00 56.95 138.13 53.97 139.40 53.00Z" fill="#ff2c00"/></g><ellipse cx="144.6" cy="68.9" rx="3.7" ry="1.2" fill="#ff2c00" transform="rotate(-6 144.6 68.9)"/></g>
<text x="129.2" y="14.8" font-size="10" fill="#111" text-anchor="middle">IC 2</text>
<use href="#cb" transform="translate(215.3 19.0)"/>
<g clip-path="url(#mc3)" filter="url(#jag)"><g clip-path="url(#c6)"><path d="M182.50 50.50 C183.77 49.60 186.67 51.00 189.20 51.50 C191.73 52.00 196.00 52.60 197.70 53.50 C199.40 54.40 198.13 55.63 199.40 56.90 C200.67 58.17 204.03 59.68 205.30 61.10 C206.57 62.52 207.00 64.07 207.00 65.40 C207.00 66.73 206.85 68.12 205.30 69.10 C203.75 70.08 200.38 70.57 197.70 71.30 C195.02 72.03 191.18 73.65 189.20 73.50 C187.22 73.35 186.92 72.03 185.80 70.40 C184.68 68.77 183.20 65.95 182.50 63.70 C181.80 61.45 181.60 59.10 181.60 56.90 C181.60 54.70 181.23 51.40 182.50 50.50Z" fill="#ff2c00"/><ellipse cx="193.5" cy="63.0" rx="9.5" ry="6.5" fill="#ff8a00" transform="rotate(20 193.5 63.0)" filter="url(#b2)"/><ellipse cx="194.3" cy="64.0" rx="5.5" ry="3.2" fill="#ffc400" transform="rotate(20 194.3 64.0)" filter="url(#b15)"/></g><g clip-path="url(#c7)"><path d="M224.70 63.70 C225.83 62.43 229.25 61.30 231.50 60.30 C233.75 59.30 236.52 58.83 238.20 57.70 C239.88 56.57 240.18 54.33 241.60 53.50 C243.02 52.67 245.57 52.13 246.70 52.70 C247.83 53.27 248.07 54.78 248.40 56.90 C248.73 59.02 248.85 63.00 248.70 65.40 C248.55 67.80 248.40 69.77 247.50 71.30 C246.60 72.83 244.85 74.47 243.30 74.60 C241.75 74.73 240.45 72.80 238.20 72.10 C235.95 71.40 232.05 71.10 229.80 70.40 C227.55 69.70 225.55 69.02 224.70 67.90 C223.85 66.78 223.57 64.97 224.70 63.70Z" fill="#ff2c00"/><ellipse cx="237.0" cy="65.0" rx="11.0" ry="5.5" fill="#ff8a00" transform="rotate(-12 237.0 65.0)" filter="url(#b2)"/><ellipse cx="238.0" cy="65.6" rx="8.0" ry="3.2" fill="#ffc400" transform="rotate(-10 238.0 65.6)" filter="url(#b15)"/><ellipse cx="240.0" cy="65.4" rx="4.0" ry="1.8" fill="#ffff00" transform="rotate(-10 240.0 65.4)" filter="url(#b1)"/></g></g>
<text x="215.2" y="14.8" font-size="10" fill="#111" text-anchor="middle">IC 3</text>
<use href="#cb" transform="translate(41.5 113.0)"/>
<g clip-path="url(#mc4)" filter="url(#jag)"><g clip-path="url(#c8)"><path d="M29.60 141.40 C31.45 140.52 34.53 140.15 36.30 140.50 C38.07 140.85 39.42 141.88 40.20 143.50 C40.98 145.12 40.93 147.95 41.00 150.20 C41.07 152.45 41.00 154.75 40.60 157.00 C40.20 159.25 39.57 162.08 38.60 163.70 C37.63 165.32 36.62 166.20 34.80 166.70 C32.98 167.20 29.62 167.28 27.70 166.70 C25.78 166.12 24.32 164.82 23.30 163.20 C22.28 161.58 21.75 159.02 21.60 157.00 C21.45 154.98 21.80 152.97 22.40 151.10 C23.00 149.23 24.00 147.42 25.20 145.80 C26.40 144.18 27.75 142.28 29.60 141.40Z" fill="#ff2c00"/><ellipse cx="32.8" cy="154.0" rx="8.4" ry="12.2" fill="#ff8a00" transform="rotate(8 32.8 154.0)" filter="url(#b15)"/><ellipse cx="34.0" cy="154.0" rx="6.6" ry="11.0" fill="#ffc400" transform="rotate(6 34.0 154.0)" filter="url(#b1)"/><ellipse cx="35.0" cy="154.0" rx="5.2" ry="10.0" fill="#ffff00" transform="rotate(5 35.0 154.0)" filter="url(#b05)"/></g><g clip-path="url(#c9)"><path d="M43.60 142.40 C44.97 140.87 48.50 140.60 50.70 141.00 C52.90 141.40 55.20 143.27 56.80 144.80 C58.40 146.33 59.50 148.17 60.30 150.20 C61.10 152.23 61.47 155.03 61.60 157.00 C61.73 158.97 61.73 160.53 61.10 162.00 C60.47 163.47 59.53 164.88 57.80 165.80 C56.07 166.72 52.57 167.80 50.70 167.50 C48.83 167.20 47.72 165.75 46.60 164.00 C45.48 162.25 44.68 159.30 44.00 157.00 C43.32 154.70 42.57 152.63 42.50 150.20 C42.43 147.77 42.23 143.93 43.60 142.40Z" fill="#ff2c00"/><ellipse cx="51.4" cy="155.0" rx="8.6" ry="12.2" fill="#ff8a00" transform="rotate(-8 51.4 155.0)" filter="url(#b15)"/><ellipse cx="50.2" cy="155.0" rx="7.0" ry="11.0" fill="#ffc400" transform="rotate(-8 50.2 155.0)" filter="url(#b1)"/><ellipse cx="49.2" cy="155.0" rx="5.6" ry="10.0" fill="#ffff00" transform="rotate(-7 49.2 155.0)" filter="url(#b05)"/></g><g clip-path="url(#c10)"><path d="M40.40 139.00 C40.72 137.58 41.70 136.42 42.30 136.50 C42.90 136.58 43.78 138.08 44.00 139.50 C44.22 140.92 43.83 143.42 43.60 145.00 C43.37 146.58 42.97 148.33 42.60 149.00 C42.23 149.67 41.77 149.67 41.40 149.00 C41.03 148.33 40.57 146.67 40.40 145.00 C40.23 143.33 40.08 140.42 40.40 139.00Z" fill="#ff2c00"/></g><path d="M41.50 152.00 C41.55 153.00 41.78 155.92 41.80 158.00 C41.82 160.08 41.63 163.42 41.60 164.50" fill="none" stroke="#ff2c00" stroke-width="1.4" stroke-linecap="round"/><ellipse cx="40.5" cy="119.8" rx="3.3" ry="2.2" fill="#ff2c00" transform="rotate(0 40.5 119.8)"/><ellipse cx="42.3" cy="134.7" rx="0.9" ry="0.9" fill="#ff2c00" transform="rotate(0 42.3 134.7)"/><path d="M19.60 119.80 C19.70 120.25 19.97 121.65 20.20 122.50 C20.43 123.35 20.87 124.50 21.00 124.90" fill="none" stroke="#ff2c00" stroke-width="1.3" stroke-linecap="round"/><path d="M2.50 131.70 C3.08 131.28 4.30 129.88 6.00 129.20 C7.70 128.52 11.58 127.87 12.70 127.60" fill="none" stroke="#ff2c00" stroke-width="1.3" stroke-linecap="round"/><path d="M61.90 120.70 C62.12 121.17 62.82 122.52 63.20 123.50 C63.58 124.48 64.03 126.08 64.20 126.60" fill="none" stroke="#ff2c00" stroke-width="1.3" stroke-linecap="round"/><path d="M72.70 128.30 C73.42 128.58 75.60 129.15 77.00 130.00 C78.40 130.85 80.42 132.83 81.10 133.40" fill="none" stroke="#ff2c00" stroke-width="1.3" stroke-linecap="round"/></g>
<text x="42.5" y="106.3" font-size="10" fill="#111" text-anchor="middle">IC 4</text>
<use href="#cb" transform="translate(127.7 112.7)"/>
<g clip-path="url(#mc5)" filter="url(#jag)"><g clip-path="url(#c11)"><path d="M116.40 112.90 C115.13 112.47 112.27 113.02 110.50 113.80 C108.73 114.58 106.78 116.10 105.80 117.60 C104.82 119.10 105.17 121.40 104.60 122.80 C104.03 124.20 103.82 125.27 102.40 126.00 C100.98 126.73 98.13 126.70 96.10 127.20 C94.07 127.70 91.77 128.12 90.20 129.00 C88.63 129.88 87.23 131.35 86.70 132.50 C86.17 133.65 86.27 135.48 87.00 135.90 C87.73 136.32 89.58 135.57 91.10 135.00 C92.62 134.43 94.13 132.92 96.10 132.50 C98.07 132.08 100.92 132.22 102.90 132.50 C104.88 132.78 106.32 133.50 108.00 134.20 C109.68 134.90 111.03 136.00 113.00 136.70 C114.97 137.40 118.25 138.68 119.80 138.40 C121.35 138.12 121.97 136.68 122.30 135.00 C122.63 133.32 122.08 130.55 121.80 128.30 C121.52 126.05 121.22 123.48 120.60 121.50 C119.98 119.52 118.80 117.83 118.10 116.40 C117.40 114.97 117.67 113.33 116.40 112.90Z" fill="#ff2c00"/><ellipse cx="111.0" cy="126.5" rx="9.5" ry="11.5" fill="#ff8a00" transform="rotate(-15 111.0 126.5)" filter="url(#b15)"/><ellipse cx="97.0" cy="131.0" rx="8.0" ry="2.5" fill="#ff8a00" transform="rotate(-12 97.0 131.0)" filter="url(#b1)"/><ellipse cx="112.0" cy="126.0" rx="7.4" ry="10.0" fill="#ffc400" transform="rotate(-12 112.0 126.0)" filter="url(#b1)"/><ellipse cx="112.4" cy="125.4" rx="6.0" ry="8.8" fill="#ffff00" transform="rotate(-12 112.4 125.4)" filter="url(#b05)"/></g><g clip-path="url(#c12)"><path d="M136.70 112.90 C137.92 111.83 140.82 112.75 142.60 113.40 C144.38 114.05 146.23 115.37 147.40 116.80 C148.57 118.23 148.90 120.47 149.60 122.00 C150.30 123.53 150.38 125.13 151.60 126.00 C152.82 126.87 154.88 126.80 156.90 127.20 C158.92 127.60 161.75 127.73 163.70 128.40 C165.65 129.07 167.63 129.95 168.60 131.20 C169.57 132.45 170.03 135.27 169.50 135.90 C168.97 136.53 166.93 135.48 165.40 135.00 C163.87 134.52 162.27 133.33 160.30 133.00 C158.33 132.67 155.57 132.72 153.60 133.00 C151.63 133.28 150.20 134.08 148.50 134.70 C146.80 135.32 145.08 136.30 143.40 136.70 C141.72 137.10 139.75 137.67 138.40 137.10 C137.05 136.53 135.87 135.05 135.30 133.30 C134.73 131.55 135.00 128.85 135.00 126.60 C135.00 124.35 135.02 122.08 135.30 119.80 C135.58 117.52 135.48 113.97 136.70 112.90Z" fill="#ff2c00"/><ellipse cx="144.5" cy="126.0" rx="9.5" ry="11.5" fill="#ff8a00" transform="rotate(15 144.5 126.0)" filter="url(#b15)"/><ellipse cx="158.0" cy="131.0" rx="8.0" ry="2.5" fill="#ff8a00" transform="rotate(12 158.0 131.0)" filter="url(#b1)"/><ellipse cx="143.6" cy="125.6" rx="7.4" ry="10.0" fill="#ffc400" transform="rotate(12 143.6 125.6)" filter="url(#b1)"/><ellipse cx="143.2" cy="125.0" rx="6.0" ry="8.8" fill="#ffff00" transform="rotate(12 143.2 125.0)" filter="url(#b05)"/></g><g clip-path="url(#c13)"><path d="M137.50 162.00 C138.33 161.07 141.28 161.53 143.40 161.20 C145.52 160.87 148.73 159.87 150.20 160.00 C151.67 160.13 152.20 161.10 152.20 162.00 C152.20 162.90 151.67 164.50 150.20 165.40 C148.73 166.30 145.37 167.17 143.40 167.40 C141.43 167.63 139.38 167.70 138.40 166.80 C137.42 165.90 136.67 162.93 137.50 162.00Z" fill="#ff2c00"/></g><path d="M93.30 160.00 C93.35 160.62 93.55 163.08 93.60 163.70" fill="none" stroke="#ff2c00" stroke-width="1.4" stroke-linecap="round"/><ellipse cx="161.0" cy="167.0" rx="0.8" ry="1.0" fill="#ff2c00" transform="rotate(0 161.0 167.0)"/></g>
<text x="129.2" y="106.3" font-size="10" fill="#111" text-anchor="middle">IC 5</text>
<use href="#cb" transform="translate(215.1 113.0)"/>
<g clip-path="url(#mc6)" filter="url(#jag)"><g clip-path="url(#c14)"><path d="M192.90 132.70 C193.18 130.97 194.07 128.05 195.50 126.60 C196.93 125.15 199.35 124.48 201.50 124.00 C203.65 123.52 206.67 123.27 208.40 123.70 C210.13 124.13 210.90 125.60 211.90 126.60 C212.90 127.60 213.60 129.12 214.40 129.70 C215.20 130.28 215.83 130.33 216.70 130.10 C217.57 129.87 218.53 129.17 219.60 128.30 C220.67 127.43 221.52 125.67 223.10 124.90 C224.68 124.13 227.23 123.42 229.10 123.70 C230.97 123.98 233.00 125.25 234.30 126.60 C235.60 127.95 236.62 130.07 236.90 131.80 C237.18 133.53 235.83 135.42 236.00 137.00 C236.17 138.58 238.43 140.15 237.90 141.30 C237.37 142.45 233.88 142.75 232.80 143.90 C231.72 145.05 232.27 146.77 231.40 148.20 C230.53 149.63 228.98 151.32 227.60 152.50 C226.22 153.68 224.28 155.13 223.10 155.30 C221.92 155.47 221.12 152.72 220.50 153.50 C219.88 154.28 219.82 160.25 219.40 160.00 C218.98 159.75 218.40 154.58 218.00 152.00 C217.60 149.42 217.62 145.75 217.00 144.50 C216.38 143.25 214.85 143.25 214.30 144.50 C213.75 145.75 213.88 149.42 213.70 152.00 C213.52 154.58 213.45 157.17 213.20 160.00 C212.95 162.83 212.50 169.00 212.20 169.00 C211.90 169.00 211.93 162.00 211.40 160.00 C210.87 158.00 209.97 157.78 209.00 157.00 C208.03 156.22 206.60 156.20 205.60 155.30 C204.60 154.40 203.57 153.05 203.00 151.60 C202.43 150.15 203.02 147.85 202.20 146.60 C201.38 145.35 200.03 144.82 198.10 144.10 C196.17 143.38 191.32 143.48 190.60 142.30 C189.88 141.12 193.42 138.60 193.80 137.00 C194.18 135.40 192.62 134.43 192.90 132.70Z" fill="#ff3200"/><ellipse cx="206.5" cy="139.0" rx="9.5" ry="7.0" fill="#ff7a00" transform="rotate(32 206.5 139.0)" filter="url(#b2)"/><ellipse cx="225.5" cy="138.0" rx="9.5" ry="7.0" fill="#ff7a00" transform="rotate(-32 225.5 138.0)" filter="url(#b2)"/><ellipse cx="215.6" cy="143.5" rx="6.5" ry="9.5" fill="#ff8400" transform="rotate(0 215.6 143.5)" filter="url(#b2)"/><ellipse cx="209.8" cy="153.0" rx="2.6" ry="6.5" fill="#ff7a00" transform="rotate(-20 209.8 153.0)" filter="url(#b15)"/><ellipse cx="221.0" cy="150.0" rx="3.0" ry="5.5" fill="#ff7a00" transform="rotate(25 221.0 150.0)" filter="url(#b15)"/><ellipse cx="208.5" cy="141.0" rx="6.0" ry="2.4" fill="#ffc400" transform="rotate(-42 208.5 141.0)" filter="url(#b15)"/><ellipse cx="223.5" cy="139.5" rx="6.5" ry="2.4" fill="#ffc400" transform="rotate(42 223.5 139.5)" filter="url(#b15)"/><ellipse cx="215.6" cy="140.5" rx="4.0" ry="3.2" fill="#ffc400" transform="rotate(0 215.6 140.5)" filter="url(#b15)"/><ellipse cx="215.6" cy="141.5" rx="2.0" ry="1.5" fill="#ffff00" transform="rotate(0 215.6 141.5)" filter="url(#b1)"/></g><g clip-path="url(#c15)"><path d="M177.50 141.00 C176.40 142.90 177.13 148.60 177.40 151.90 C177.67 155.20 177.97 157.82 179.10 160.80 C180.23 163.78 182.22 166.85 184.20 169.80 C186.18 172.75 188.97 177.65 191.00 178.50 C193.03 179.35 196.13 176.52 196.40 174.90 C196.67 173.28 193.63 170.67 192.60 168.80 C191.57 166.93 190.43 165.40 190.20 163.70 C189.97 162.00 190.93 160.57 191.20 158.60 C191.47 156.63 192.27 154.15 191.80 151.90 C191.33 149.65 189.70 147.00 188.40 145.10 C187.10 143.20 185.82 141.18 184.00 140.50 C182.18 139.82 178.60 139.10 177.50 141.00Z" fill="#ff3400"/><ellipse cx="185.0" cy="157.0" rx="2.5" ry="9.0" fill="#ff5a00" transform="rotate(-8 185.0 157.0)" filter="url(#b15)"/></g><g clip-path="url(#c16)"><path d="M250.00 143.50 C251.35 144.93 253.00 150.43 253.50 153.60 C254.00 156.77 253.70 159.80 253.00 162.50 C252.30 165.20 251.13 167.27 249.30 169.80 C247.47 172.33 244.05 177.13 242.00 177.70 C239.95 178.27 237.43 174.97 237.00 173.20 C236.57 171.43 238.77 169.25 239.40 167.10 C240.03 164.95 240.70 162.55 240.80 160.30 C240.90 158.05 239.70 155.48 240.00 153.60 C240.30 151.72 241.70 150.43 242.60 149.00 C243.50 147.57 244.17 145.92 245.40 145.00 C246.63 144.08 248.65 142.07 250.00 143.50Z" fill="#ff3400"/><ellipse cx="246.0" cy="158.0" rx="2.5" ry="9.0" fill="#ff5a00" transform="rotate(8 246.0 158.0)" filter="url(#b15)"/></g><path d="M215.20 173.30 C215.23 173.78 215.37 175.72 215.40 176.20" fill="none" stroke="#ff2c00" stroke-width="1.6" stroke-linecap="round"/></g>
<text x="215.2" y="106.3" font-size="10" fill="#111" text-anchor="middle">IC 6</text>
<use href="#cb" transform="translate(41.0 207.9)"/>
<g clip-path="url(#mc7)" filter="url(#jag)"><g clip-path="url(#c17)"><path d="M9.90 238.80 C10.20 237.98 13.20 236.90 15.30 236.60 C17.40 236.30 20.85 236.48 22.50 237.00 C24.15 237.52 25.05 238.75 25.20 239.70 C25.35 240.65 24.60 242.10 23.40 242.70 C22.20 243.30 19.65 243.50 18.00 243.30 C16.35 243.10 14.85 242.25 13.50 241.50 C12.15 240.75 9.60 239.62 9.90 238.80Z" fill="#ff2c00"/></g><g clip-path="url(#c18)"><path d="M11.70 254.10 C12.80 252.83 15.75 251.70 18.00 251.40 C20.25 251.10 23.07 251.77 25.20 252.30 C27.33 252.83 29.17 255.05 30.80 254.60 C32.43 254.15 34.00 251.63 35.00 249.60 C36.00 247.57 36.25 244.50 36.80 242.40 C37.35 240.30 37.75 236.70 38.30 237.00 C38.85 237.30 39.97 241.50 40.10 244.20 C40.23 246.90 39.82 250.20 39.10 253.20 C38.38 256.20 37.08 259.50 35.80 262.20 C34.52 264.90 33.03 267.02 31.40 269.40 C29.77 271.78 27.33 274.98 26.00 276.50 C24.67 278.02 24.50 279.62 23.40 278.50 C22.30 277.38 20.80 272.38 19.40 269.80 C18.00 267.22 16.33 264.80 15.00 263.00 C13.67 261.20 11.95 260.48 11.40 259.00 C10.85 257.52 10.60 255.37 11.70 254.10Z" fill="#ff2c00"/><ellipse cx="26.0" cy="262.0" rx="10.0" ry="9.5" fill="#ff8a00" transform="rotate(0 26.0 262.0)" filter="url(#b2)"/><ellipse cx="36.0" cy="254.0" rx="3.2" ry="8.0" fill="#ff8a00" transform="rotate(18 36.0 254.0)" filter="url(#b1)"/><ellipse cx="26.0" cy="264.0" rx="7.8" ry="8.2" fill="#ffc400" transform="rotate(0 26.0 264.0)" filter="url(#b15)"/><ellipse cx="36.4" cy="256.0" rx="1.8" ry="6.0" fill="#ffc400" transform="rotate(18 36.4 256.0)" filter="url(#b1)"/><ellipse cx="25.8" cy="265.0" rx="6.2" ry="7.0" fill="#ffff00" transform="rotate(0 25.8 265.0)" filter="url(#b1)"/></g><g clip-path="url(#c19)"><path d="M43.20 237.00 C43.77 237.60 44.40 243.78 45.40 246.00 C46.40 248.22 47.77 249.13 49.20 250.30 C50.63 251.47 52.00 252.70 54.00 253.00 C56.00 253.30 58.97 251.80 61.20 252.10 C63.43 252.40 65.87 253.72 67.40 254.80 C68.93 255.88 70.08 257.17 70.40 258.60 C70.72 260.03 70.43 261.53 69.30 263.40 C68.17 265.27 65.48 267.57 63.60 269.80 C61.72 272.03 59.37 275.35 58.00 276.80 C56.63 278.25 56.17 279.58 55.40 278.50 C54.63 277.42 54.47 272.72 53.40 270.30 C52.33 267.88 50.32 266.25 49.00 264.00 C47.68 261.75 46.50 259.50 45.50 256.80 C44.50 254.10 43.58 250.20 43.00 247.80 C42.42 245.40 41.97 244.20 42.00 242.40 C42.03 240.60 42.63 236.40 43.20 237.00Z" fill="#ff2c00"/><ellipse cx="55.0" cy="262.0" rx="10.0" ry="9.5" fill="#ff8a00" transform="rotate(0 55.0 262.0)" filter="url(#b2)"/><ellipse cx="46.0" cy="254.0" rx="3.2" ry="8.0" fill="#ff8a00" transform="rotate(-18 46.0 254.0)" filter="url(#b1)"/><ellipse cx="55.4" cy="264.0" rx="7.8" ry="8.2" fill="#ffc400" transform="rotate(0 55.4 264.0)" filter="url(#b15)"/><ellipse cx="45.6" cy="256.0" rx="1.8" ry="6.0" fill="#ffc400" transform="rotate(-18 45.6 256.0)" filter="url(#b1)"/><ellipse cx="55.6" cy="265.5" rx="6.4" ry="7.0" fill="#ffff00" transform="rotate(0 55.6 265.5)" filter="url(#b1)"/></g><path d="M41.00 257.80 C41.00 258.93 41.00 263.47 41.00 264.60" fill="none" stroke="#ff8a00" stroke-width="2.6" stroke-linecap="round"/><ellipse cx="40.8" cy="271.6" rx="1.7" ry="1.6" fill="#ff2c00" transform="rotate(0 40.8 271.6)"/></g>
<text x="42.5" y="202.4" font-size="10" fill="#111" text-anchor="middle">IC 7</text>
<use href="#cb" transform="translate(127.2 207.2)"/>
<g clip-path="url(#mc8)" filter="url(#jag)"><g clip-path="url(#c20)"><path d="M84.50 227.40 C85.28 225.52 86.58 222.87 89.20 221.50 C91.82 220.13 97.32 219.65 100.20 219.20 C103.08 218.75 105.07 218.03 106.50 218.80 C107.93 219.57 109.00 222.07 108.80 223.80 C108.60 225.53 106.00 227.40 105.30 229.20 C104.60 231.00 104.32 232.80 104.60 234.60 C104.88 236.40 106.27 238.68 107.00 240.00 C107.73 241.32 109.17 241.48 109.00 242.50 C108.83 243.52 107.30 245.10 106.00 246.10 C104.70 247.10 102.58 247.58 101.20 248.50 C99.82 249.42 98.82 250.43 97.70 251.60 C96.58 252.77 95.87 255.77 94.50 255.50 C93.13 255.23 90.75 252.78 89.50 250.00 C88.25 247.22 87.83 241.67 87.00 238.80 C86.17 235.93 84.92 234.70 84.50 232.80 C84.08 230.90 83.72 229.28 84.50 227.40Z" fill="#ff2c00"/><ellipse cx="94.5" cy="234.0" rx="8.5" ry="15.0" fill="#ff8a00" transform="rotate(-12 94.5 234.0)" filter="url(#b2)"/><ellipse cx="93.2" cy="233.0" rx="6.4" ry="12.5" fill="#ffc400" transform="rotate(-14 93.2 233.0)" filter="url(#b15)"/><ellipse cx="92.2" cy="231.5" rx="4.6" ry="9.6" fill="#ffff00" transform="rotate(-16 92.2 231.5)" filter="url(#b1)"/></g><g clip-path="url(#c21)"><path d="M147.00 222.00 C147.40 220.87 150.30 220.73 152.40 220.60 C154.50 220.47 157.13 220.68 159.60 221.20 C162.07 221.72 165.37 222.37 167.20 223.70 C169.03 225.03 170.18 227.53 170.60 229.20 C171.02 230.87 170.30 232.10 169.70 233.70 C169.10 235.30 167.83 236.15 167.00 238.80 C166.17 241.45 165.45 246.45 164.70 249.60 C163.95 252.75 163.50 255.63 162.50 257.70 C161.50 259.77 159.92 262.28 158.70 262.00 C157.48 261.72 156.38 257.97 155.20 256.00 C154.02 254.03 152.50 252.47 151.60 250.20 C150.70 247.93 149.83 244.77 149.80 242.40 C149.77 240.03 150.95 237.60 151.40 236.00 C151.85 234.40 152.73 234.23 152.50 232.80 C152.27 231.37 150.92 229.20 150.00 227.40 C149.08 225.60 146.60 223.13 147.00 222.00Z" fill="#ff2c00"/><ellipse cx="160.5" cy="237.0" rx="8.5" ry="16.0" fill="#ff8a00" transform="rotate(12 160.5 237.0)" filter="url(#b2)"/><ellipse cx="161.2" cy="236.0" rx="6.4" ry="13.5" fill="#ffc400" transform="rotate(13 161.2 236.0)" filter="url(#b15)"/><ellipse cx="162.0" cy="235.0" rx="4.8" ry="11.8" fill="#ffff00" transform="rotate(14 162.0 235.0)" filter="url(#b1)"/></g><path d="M123.40 238.60 C123.17 239.83 122.47 243.53 122.00 246.00 C121.53 248.47 120.83 252.17 120.60 253.40" fill="none" stroke="#ff2c00" stroke-width="2.6" stroke-linecap="round"/><path d="M131.20 240.20 C131.47 241.42 132.27 245.03 132.80 247.50 C133.33 249.97 134.13 253.75 134.40 255.00" fill="none" stroke="#ff2c00" stroke-width="2.6" stroke-linecap="round"/><ellipse cx="117.0" cy="260.6" rx="1.8" ry="3.0" fill="#ff2c00" transform="rotate(30 117.0 260.6)"/><path d="M126.10 249.00 C126.13 249.92 126.27 253.58 126.30 254.50" fill="none" stroke="#ff2c00" stroke-width="1.3" stroke-linecap="round"/><path d="M126.90 260.60 C126.92 261.58 126.98 265.52 127.00 266.50" fill="none" stroke="#ff2c00" stroke-width="1.0" stroke-linecap="round"/><path d="M108.90 210.60 C108.78 210.93 108.42 211.93 108.20 212.60 C107.98 213.27 107.70 214.27 107.60 214.60" fill="none" stroke="#ff2c00" stroke-width="1.6" stroke-linecap="round"/></g>
<text x="129.2" y="202.4" font-size="10" fill="#111" text-anchor="middle">IC 8</text>
<use href="#cb" transform="translate(213.4 206.7)"/>
<g clip-path="url(#mc9)" filter="url(#jag)"><g clip-path="url(#c22)"><path d="M179.00 235.50 C179.33 234.07 182.00 233.05 184.40 232.60 C186.80 232.15 190.10 232.40 193.40 232.80 C196.70 233.20 201.73 233.95 204.20 235.00 C206.67 236.05 207.68 237.63 208.20 239.10 C208.72 240.57 208.08 242.38 207.30 243.80 C206.52 245.22 205.52 247.08 203.50 247.60 C201.48 248.12 197.78 247.32 195.20 246.90 C192.62 246.48 190.13 246.05 188.00 245.10 C185.87 244.15 183.90 242.80 182.40 241.20 C180.90 239.60 178.67 236.93 179.00 235.50Z" fill="#ffff00"/><path d="M179.00 235.50 C179.33 234.07 182.00 233.05 184.40 232.60 C186.80 232.15 190.10 232.40 193.40 232.80 C196.70 233.20 201.73 233.95 204.20 235.00 C206.67 236.05 207.68 237.63 208.20 239.10 C208.72 240.57 208.08 242.38 207.30 243.80 C206.52 245.22 205.52 247.08 203.50 247.60 C201.48 248.12 197.78 247.32 195.20 246.90 C192.62 246.48 190.13 246.05 188.00 245.10 C185.87 244.15 183.90 242.80 182.40 241.20 C180.90 239.60 178.67 236.93 179.00 235.50Z" fill="none" stroke="#ffc400" stroke-width="4.0" stroke-linejoin="round" filter="url(#b1)"/><path d="M179.00 235.50 C179.33 234.07 182.00 233.05 184.40 232.60 C186.80 232.15 190.10 232.40 193.40 232.80 C196.70 233.20 201.73 233.95 204.20 235.00 C206.67 236.05 207.68 237.63 208.20 239.10 C208.72 240.57 208.08 242.38 207.30 243.80 C206.52 245.22 205.52 247.08 203.50 247.60 C201.48 248.12 197.78 247.32 195.20 246.90 C192.62 246.48 190.13 246.05 188.00 245.10 C185.87 244.15 183.90 242.80 182.40 241.20 C180.90 239.60 178.67 236.93 179.00 235.50Z" fill="none" stroke="#ff8a00" stroke-width="3.0" stroke-linejoin="round" filter="url(#b05)"/><path d="M179.00 235.50 C179.33 234.07 182.00 233.05 184.40 232.60 C186.80 232.15 190.10 232.40 193.40 232.80 C196.70 233.20 201.73 233.95 204.20 235.00 C206.67 236.05 207.68 237.63 208.20 239.10 C208.72 240.57 208.08 242.38 207.30 243.80 C206.52 245.22 205.52 247.08 203.50 247.60 C201.48 248.12 197.78 247.32 195.20 246.90 C192.62 246.48 190.13 246.05 188.00 245.10 C185.87 244.15 183.90 242.80 182.40 241.20 C180.90 239.60 178.67 236.93 179.00 235.50Z" fill="none" stroke="#ff2c00" stroke-width="1.4" stroke-linejoin="round" filter="url(#b05)"/></g><g clip-path="url(#c23)"><path d="M216.90 237.30 C217.68 235.73 220.42 233.98 222.20 232.60 C223.98 231.22 226.22 229.27 227.60 229.00 C228.98 228.73 230.28 230.28 230.50 231.00 C230.72 231.72 227.58 233.07 228.90 233.30 C230.22 233.53 235.73 232.40 238.40 232.40 C241.07 232.40 243.33 232.48 244.90 233.30 C246.47 234.12 247.47 235.70 247.80 237.30 C248.13 238.90 247.53 241.18 246.90 242.90 C246.27 244.62 245.72 246.93 244.00 247.60 C242.28 248.27 239.33 246.87 236.60 246.90 C233.87 246.93 230.18 247.98 227.60 247.80 C225.02 247.62 222.78 246.77 221.10 245.80 C219.42 244.83 218.20 243.42 217.50 242.00 C216.80 240.58 216.12 238.87 216.90 237.30Z" fill="#ffff00"/><path d="M216.90 237.30 C217.68 235.73 220.42 233.98 222.20 232.60 C223.98 231.22 226.22 229.27 227.60 229.00 C228.98 228.73 230.28 230.28 230.50 231.00 C230.72 231.72 227.58 233.07 228.90 233.30 C230.22 233.53 235.73 232.40 238.40 232.40 C241.07 232.40 243.33 232.48 244.90 233.30 C246.47 234.12 247.47 235.70 247.80 237.30 C248.13 238.90 247.53 241.18 246.90 242.90 C246.27 244.62 245.72 246.93 244.00 247.60 C242.28 248.27 239.33 246.87 236.60 246.90 C233.87 246.93 230.18 247.98 227.60 247.80 C225.02 247.62 222.78 246.77 221.10 245.80 C219.42 244.83 218.20 243.42 217.50 242.00 C216.80 240.58 216.12 238.87 216.90 237.30Z" fill="none" stroke="#ffc400" stroke-width="4.0" stroke-linejoin="round" filter="url(#b1)"/><path d="M216.90 237.30 C217.68 235.73 220.42 233.98 222.20 232.60 C223.98 231.22 226.22 229.27 227.60 229.00 C228.98 228.73 230.28 230.28 230.50 231.00 C230.72 231.72 227.58 233.07 228.90 233.30 C230.22 233.53 235.73 232.40 238.40 232.40 C241.07 232.40 243.33 232.48 244.90 233.30 C246.47 234.12 247.47 235.70 247.80 237.30 C248.13 238.90 247.53 241.18 246.90 242.90 C246.27 244.62 245.72 246.93 244.00 247.60 C242.28 248.27 239.33 246.87 236.60 246.90 C233.87 246.93 230.18 247.98 227.60 247.80 C225.02 247.62 222.78 246.77 221.10 245.80 C219.42 244.83 218.20 243.42 217.50 242.00 C216.80 240.58 216.12 238.87 216.90 237.30Z" fill="none" stroke="#ff8a00" stroke-width="3.0" stroke-linejoin="round" filter="url(#b05)"/><path d="M216.90 237.30 C217.68 235.73 220.42 233.98 222.20 232.60 C223.98 231.22 226.22 229.27 227.60 229.00 C228.98 228.73 230.28 230.28 230.50 231.00 C230.72 231.72 227.58 233.07 228.90 233.30 C230.22 233.53 235.73 232.40 238.40 232.40 C241.07 232.40 243.33 232.48 244.90 233.30 C246.47 234.12 247.47 235.70 247.80 237.30 C248.13 238.90 247.53 241.18 246.90 242.90 C246.27 244.62 245.72 246.93 244.00 247.60 C242.28 248.27 239.33 246.87 236.60 246.90 C233.87 246.93 230.18 247.98 227.60 247.80 C225.02 247.62 222.78 246.77 221.10 245.80 C219.42 244.83 218.20 243.42 217.50 242.00 C216.80 240.58 216.12 238.87 216.90 237.30Z" fill="none" stroke="#ff2c00" stroke-width="1.4" stroke-linejoin="round" filter="url(#b05)"/></g></g>
<text x="215.2" y="202.4" font-size="10" fill="#111" text-anchor="middle">IC 9</text>
<text x="1.9" y="13.3" font-size="16.6" fill="#000" textLength="16.2" lengthAdjust="spacingAndGlyphs">A)</text>
</g>
<g id="colorbar">
<rect x="297.6" y="63.6" width="11.3" height="158.9" fill="url(#cbg)"/>
<line x1="297.6" x2="298.8" y1="83.5" y2="83.5" stroke="#fff" stroke-width="0.5" opacity="0.7"/>
<line x1="307.7" x2="308.9" y1="83.5" y2="83.5" stroke="#fff" stroke-width="0.5" opacity="0.7"/>
<line x1="297.6" x2="298.8" y1="103.3" y2="103.3" stroke="#fff" stroke-width="0.5" opacity="0.7"/>
<line x1="307.7" x2="308.9" y1="103.3" y2="103.3" stroke="#fff" stroke-width="0.5" opacity="0.7"/>
<line x1="297.6" x2="298.8" y1="123.2" y2="123.2" stroke="#fff" stroke-width="0.5" opacity="0.7"/>
<line x1="307.7" x2="308.9" y1="123.2" y2="123.2" stroke="#fff" stroke-width="0.5" opacity="0.7"/>
<line x1="297.6" x2="298.8" y1="143.1" y2="143.1" stroke="#fff" stroke-width="0.5" opacity="0.7"/>
<line x1="307.7" x2="308.9" y1="143.1" y2="143.1" stroke="#fff" stroke-width="0.5" opacity="0.7"/>
<line x1="297.6" x2="298.8" y1="162.9" y2="162.9" stroke="#fff" stroke-width="0.5" opacity="0.7"/>
<line x1="307.7" x2="308.9" y1="162.9" y2="162.9" stroke="#fff" stroke-width="0.5" opacity="0.7"/>
<line x1="297.6" x2="298.8" y1="182.8" y2="182.8" stroke="#fff" stroke-width="0.5" opacity="0.7"/>
<line x1="307.7" x2="308.9" y1="182.8" y2="182.8" stroke="#fff" stroke-width="0.5" opacity="0.7"/>
<line x1="297.6" x2="298.8" y1="202.6" y2="202.6" stroke="#fff" stroke-width="0.5" opacity="0.7"/>
<line x1="307.7" x2="308.9" y1="202.6" y2="202.6" stroke="#fff" stroke-width="0.5" opacity="0.7"/>
<text x="293.4" y="70.7" font-size="8.8" fill="#1a1a1a" text-anchor="end">6</text>
<text x="293.4" y="108.9" font-size="8.8" fill="#1a1a1a" text-anchor="end">5</text>
<text x="293.4" y="147.1" font-size="8.8" fill="#1a1a1a" text-anchor="end">4</text>
<text x="293.4" y="186.2" font-size="8.8" fill="#1a1a1a" text-anchor="end">3</text>
<text x="293.4" y="224.0" font-size="8.8" fill="#1a1a1a" text-anchor="end">2</text>
<text x="283.4" y="245.1" font-size="10.2" fill="#111">Z-score</text>
</g>
<g id="chart">
<rect x="367.5" y="8.0" width="243.0" height="238.3" fill="#fff" stroke="#c2c2c2" stroke-width="1.2"/>
<path d="M377.96 236.12 L379.07 236.11 L380.18 236.09 L381.29 236.08 L382.40 236.06 L383.51 236.03 L384.62 236.01 L385.73 235.98 L386.84 235.94 L387.96 235.90 L389.07 235.86 L390.18 235.81 L391.29 235.75 L392.40 235.68 L393.51 235.61 L394.62 235.52 L395.73 235.43 L396.85 235.32 L397.96 235.20 L399.07 235.06 L400.18 234.91 L401.29 234.74 L402.40 234.55 L403.51 234.34 L404.62 234.10 L405.73 233.84 L406.85 233.55 L407.96 233.23 L409.07 232.87 L410.18 232.47 L411.29 232.04 L412.40 231.56 L413.51 231.03 L414.62 230.45 L415.73 229.82 L416.85 229.13 L417.96 228.38 L419.07 227.56 L420.18 226.66 L421.29 225.69 L422.40 224.64 L423.51 223.51 L424.62 222.28 L425.73 220.96 L426.85 219.54 L427.96 218.01 L429.07 216.38 L430.18 214.63 L431.29 212.76 L432.40 210.76 L433.51 208.65 L434.62 206.39 L435.73 204.01 L436.85 201.49 L437.96 198.82 L439.07 196.01 L440.18 193.06 L441.29 189.96 L442.40 186.71 L443.51 183.32 L444.62 179.78 L445.73 176.09 L446.85 172.26 L447.96 168.29 L449.07 164.18 L450.18 159.94 L451.29 155.57 L452.40 151.09 L453.51 146.49 L454.62 141.78 L455.73 136.98 L456.85 132.09 L457.96 127.13 L459.07 122.11 L460.18 117.04 L461.29 111.93 L462.40 106.79 L463.51 101.66 L464.62 96.53 L465.73 91.42 L466.85 86.36 L467.96 81.35 L469.07 76.43 L470.18 71.59 L471.29 66.87 L472.40 62.28 L473.51 57.83 L474.62 53.55 L475.73 49.45 L476.85 45.55 L477.96 41.86 L479.07 38.41 L480.18 35.19 L481.29 32.24 L482.40 29.56 L483.51 27.16 L484.62 25.06 L485.73 23.26 L486.85 21.77 L487.96 20.59 L489.07 19.74 L490.18 19.22 L491.29 19.03 L492.40 19.17 L493.51 19.64 L494.62 20.43 L495.73 21.55 L496.85 22.99 L497.96 24.74 L499.07 26.80 L500.18 29.15 L501.29 31.79 L502.40 34.70 L503.51 37.87 L504.62 41.29 L505.73 44.94 L506.85 48.81 L507.96 52.87 L509.07 57.13 L510.18 61.55 L511.29 66.12 L512.40 70.82 L513.51 75.64 L514.62 80.55 L515.73 85.55 L516.85 90.60 L517.96 95.70 L519.07 100.83 L520.18 105.96 L521.29 111.10 L522.40 116.21 L523.51 121.29 L524.62 126.32 L525.73 131.30 L526.85 136.20 L527.96 141.01 L529.07 145.73 L530.18 150.35 L531.29 154.86 L532.40 159.24 L533.51 163.51 L534.62 167.63 L535.74 171.63 L536.85 175.48 L537.96 179.19 L539.07 182.76 L540.18 186.17 L541.29 189.45 L542.40 192.57 L543.51 195.55 L544.62 198.38 L545.74 201.06 L546.85 203.61 L547.96 206.02 L549.07 208.29 L550.18 210.43 L551.29 212.44 L552.40 214.33 L553.51 216.10 L554.62 217.76 L555.74 219.30 L556.85 220.74 L557.96 222.07 L559.07 223.32 L560.18 224.47 L561.29 225.53 L562.40 226.51 L563.51 227.42 L564.62 228.25 L565.74 229.01 L566.85 229.71 L567.96 230.36 L569.07 230.94 L570.18 231.48 L571.29 231.96 L572.40 232.41 L573.51 232.81 L574.62 233.17 L575.74 233.50 L576.85 233.80 L577.96 234.06 L579.07 234.30 L580.18 234.52 L581.29 234.71 L582.40 234.89 L583.51 235.04 L584.62 235.18 L585.74 235.30 L586.85 235.41 L587.96 235.51 L589.07 235.60 L590.18 235.67 L591.29 235.74 L592.40 235.80 L593.51 235.85 L594.62 235.90 L595.74 235.94 L596.85 235.97 L597.96 236.00 L599.07 236.03 L600.18 236.05 L600.18 236.20 L377.96 236.20 Z" fill="#4672c6"/>
<path d="M377.96 236.12 L379.07 236.11 L380.18 236.09 L381.29 236.08 L382.40 236.06 L383.51 236.03 L384.62 236.01 L385.73 235.98 L386.84 235.94 L387.96 235.90 L389.07 235.86 L390.18 235.81 L391.29 235.75 L392.40 235.68 L393.51 235.61 L394.62 235.52 L395.73 235.43 L396.85 235.32 L397.96 235.20 L399.07 235.06 L400.18 234.91 L401.29 234.74 L402.40 234.55 L403.51 234.34 L404.62 234.10 L405.73 233.84 L406.85 233.55 L407.96 233.23 L409.07 232.87 L410.18 232.47 L411.29 232.04 L412.40 231.56 L413.51 231.03 L414.62 230.45 L415.73 229.82 L416.85 229.13 L417.96 228.38 L419.07 227.56 L420.18 226.66 L421.29 225.69 L422.40 224.64 L423.51 223.51 L424.62 222.28 L425.73 220.96 L426.85 219.54 L427.96 218.01 L429.07 216.38 L430.18 214.63 L431.29 212.76 L432.40 210.76 L433.51 208.65 L434.62 206.39 L435.73 204.01 L436.85 201.49 L437.96 198.82 L439.07 196.01 L440.18 193.06 L441.29 189.96 L442.40 186.71 L443.51 183.32 L444.62 179.78 L445.73 176.09 L446.85 172.26 L447.96 168.29 L449.07 164.18 L450.18 159.94 L451.29 155.57 L452.40 151.09 L453.51 146.49 L454.62 141.78 L455.73 136.98 L456.85 132.09 L457.96 127.13 L459.07 122.11 L460.18 117.04 L461.29 111.93 L462.40 106.79 L463.51 101.66 L464.62 96.53 L465.73 91.42 L466.85 86.36 L467.96 81.35 L469.07 76.43 L470.18 71.59 L471.29 66.87 L472.40 62.28 L473.51 57.83 L474.62 53.55 L475.73 49.45 L476.85 45.55 L477.96 41.86 L479.07 38.41 L480.18 35.19 L481.29 32.24 L482.40 29.56 L483.51 27.16 L484.62 25.06 L485.73 23.26 L486.85 21.77 L487.96 20.59 L489.07 19.74 L490.18 19.22 L491.29 19.03 L492.40 19.17 L493.51 19.64 L494.62 20.43 L495.73 21.55 L496.85 22.99 L497.96 24.74 L499.07 26.80 L500.18 29.15 L501.29 31.79 L502.40 34.70 L503.51 37.87 L504.62 41.29 L505.73 44.94 L506.85 48.81 L507.96 52.87 L509.07 57.13 L510.18 61.55 L511.29 66.12 L512.40 70.82 L513.51 75.64 L514.62 80.55 L515.73 85.55 L516.85 90.60 L517.96 95.70 L519.07 100.83 L520.18 105.96 L521.29 111.10 L522.40 116.21 L523.51 121.29 L524.62 126.32 L525.73 131.30 L526.85 136.20 L527.96 141.01 L529.07 145.73 L530.18 150.35 L531.29 154.86 L532.40 159.24 L533.51 163.51 L534.62 167.63 L535.74 171.63 L536.85 175.48 L537.96 179.19 L539.07 182.76 L540.18 186.17 L541.29 189.45 L542.40 192.57 L543.51 195.55 L544.62 198.38 L545.74 201.06 L546.85 203.61 L547.96 206.02 L549.07 208.29 L550.18 210.43 L551.29 212.44 L552.40 214.33 L553.51 216.10 L554.62 217.76 L555.74 219.30 L556.85 220.74 L557.96 222.07 L559.07 223.32 L560.18 224.47 L561.29 225.53 L562.40 226.51 L563.51 227.42 L564.62 228.25 L565.74 229.01 L566.85 229.71 L567.96 230.36 L569.07 230.94 L570.18 231.48 L571.29 231.96 L572.40 232.41 L573.51 232.81 L574.62 233.17 L575.74 233.50 L576.85 233.80 L577.96 234.06 L579.07 234.30 L580.18 234.52 L581.29 234.71 L582.40 234.89 L583.51 235.04 L584.62 235.18 L585.74 235.30 L586.85 235.41 L587.96 235.51 L589.07 235.60 L590.18 235.67 L591.29 235.74 L592.40 235.80 L593.51 235.85 L594.62 235.90 L595.74 235.94 L596.85 235.97 L597.96 236.00 L599.07 236.03 L600.18 236.05" fill="none" stroke="#000" stroke-width="0.75"/>
<path d="M377.96 235.85 L379.07 235.80 L380.18 235.75 L381.29 235.69 L382.40 235.62 L383.51 235.55 L384.62 235.46 L385.73 235.36 L386.84 235.26 L387.96 235.14 L389.07 235.01 L390.18 234.86 L391.29 234.70 L392.40 234.52 L393.51 234.32 L394.62 234.11 L395.73 233.86 L396.85 233.60 L397.96 233.31 L399.07 232.99 L400.18 232.64 L401.29 232.25 L402.40 231.83 L403.51 231.37 L404.62 230.87 L405.73 230.33 L406.85 229.74 L407.96 229.10 L409.07 228.41 L410.18 227.66 L411.29 226.85 L412.40 225.98 L413.51 225.04 L414.62 224.03 L415.73 222.94 L416.85 221.78 L417.96 220.54 L419.07 219.21 L420.18 217.80 L421.29 216.29 L422.40 214.69 L423.51 212.99 L424.62 211.19 L425.73 209.29 L426.85 207.28 L427.96 205.16 L429.07 202.93 L430.18 200.58 L431.29 198.12 L432.40 195.54 L433.51 192.85 L434.62 190.04 L435.73 187.11 L436.85 184.06 L437.96 180.90 L439.07 177.62 L440.18 174.23 L441.29 170.73 L442.40 167.12 L443.51 163.42 L444.62 159.61 L445.73 155.71 L446.85 151.72 L447.96 147.66 L449.07 143.52 L450.18 139.31 L451.29 135.04 L452.40 130.73 L453.51 126.38 L454.62 122.00 L455.73 117.60 L456.85 113.20 L457.96 108.79 L459.07 104.41 L460.18 100.05 L461.29 95.74 L462.40 91.48 L463.51 87.28 L464.62 83.17 L465.73 79.15 L466.85 75.24 L467.96 71.45 L469.07 67.79 L470.18 64.27 L471.29 60.92 L472.40 57.73 L473.51 54.72 L474.62 51.91 L475.73 49.30 L476.85 46.91 L477.96 44.73 L479.07 42.79 L480.18 41.08 L481.29 39.62 L482.40 38.40 L483.51 37.45 L484.62 36.75 L485.73 36.31 L486.85 36.13 L487.96 36.22 L489.07 36.57 L490.18 37.19 L491.29 38.06 L492.40 39.19 L493.51 40.57 L494.62 42.20 L495.73 44.07 L496.85 46.17 L497.96 48.49 L499.07 51.03 L500.18 53.78 L501.29 56.72 L502.40 59.85 L503.51 63.15 L504.62 66.62 L505.73 70.23 L506.85 73.98 L507.96 77.86 L509.07 81.84 L510.18 85.93 L511.29 90.09 L512.40 94.33 L513.51 98.63 L514.62 102.98 L515.73 107.35 L516.85 111.75 L517.96 116.16 L519.07 120.56 L520.18 124.95 L521.29 129.31 L522.40 133.63 L523.51 137.92 L524.62 142.14 L525.73 146.31 L526.85 150.40 L527.96 154.41 L529.07 158.34 L530.18 162.18 L531.29 165.92 L532.40 169.56 L533.51 173.09 L534.62 176.52 L535.74 179.83 L536.85 183.03 L537.96 186.12 L539.07 189.09 L540.18 191.94 L541.29 194.67 L542.40 197.29 L543.51 199.79 L544.62 202.17 L545.74 204.44 L546.85 206.59 L547.96 208.64 L549.07 210.58 L550.18 212.41 L551.29 214.15 L552.40 215.78 L553.51 217.32 L554.62 218.76 L555.74 220.11 L556.85 221.38 L557.96 222.57 L559.07 223.68 L560.18 224.71 L561.29 225.67 L562.40 226.57 L563.51 227.40 L564.62 228.17 L565.74 228.88 L566.85 229.54 L567.96 230.14 L569.07 230.70 L570.18 231.21 L571.29 231.69 L572.40 232.12 L573.51 232.51 L574.62 232.88 L575.74 233.21 L576.85 233.51 L577.96 233.78 L579.07 234.03 L580.18 234.26 L581.29 234.46 L582.40 234.65 L583.51 234.81 L584.62 234.96 L585.74 235.10 L586.85 235.22 L587.96 235.33 L589.07 235.43 L590.18 235.52 L591.29 235.60 L592.40 235.67 L593.51 235.73 L594.62 235.79 L595.74 235.84 L596.85 235.88 L597.96 235.92 L599.07 235.95 L600.18 235.99 L600.18 236.20 L377.96 236.20 Z" fill="#a0a0a0" fill-opacity="0.39"/>
<path d="M377.96 235.85 L379.07 235.80 L380.18 235.75 L381.29 235.69 L382.40 235.62 L383.51 235.55 L384.62 235.46 L385.73 235.36 L386.84 235.26 L387.96 235.14 L389.07 235.01 L390.18 234.86 L391.29 234.70 L392.40 234.52 L393.51 234.32 L394.62 234.11 L395.73 233.86 L396.85 233.60 L397.96 233.31 L399.07 232.99 L400.18 232.64 L401.29 232.25 L402.40 231.83 L403.51 231.37 L404.62 230.87 L405.73 230.33 L406.85 229.74 L407.96 229.10 L409.07 228.41 L410.18 227.66 L411.29 226.85 L412.40 225.98 L413.51 225.04 L414.62 224.03 L415.73 222.94 L416.85 221.78 L417.96 220.54 L419.07 219.21 L420.18 217.80 L421.29 216.29 L422.40 214.69 L423.51 212.99 L424.62 211.19 L425.73 209.29 L426.85 207.28 L427.96 205.16 L429.07 202.93 L430.18 200.58 L431.29 198.12 L432.40 195.54 L433.51 192.85 L434.62 190.04 L435.73 187.11 L436.85 184.06 L437.96 180.90 L439.07 177.62 L440.18 174.23 L441.29 170.73 L442.40 167.12 L443.51 163.42 L444.62 159.61 L445.73 155.71 L446.85 151.72 L447.96 147.66 L449.07 143.52 L450.18 139.31 L451.29 135.04 L452.40 130.73 L453.51 126.38 L454.62 122.00 L455.73 117.60 L456.85 113.20 L457.96 108.79 L459.07 104.41 L460.18 100.05 L461.29 95.74 L462.40 91.48 L463.51 87.28 L464.62 83.17 L465.73 79.15 L466.85 75.24 L467.96 71.45 L469.07 67.79 L470.18 64.27 L471.29 60.92 L472.40 57.73 L473.51 54.72 L474.62 51.91 L475.73 49.30 L476.85 46.91 L477.96 44.73 L479.07 42.79 L480.18 41.08 L481.29 39.62 L482.40 38.40 L483.51 37.45 L484.62 36.75 L485.73 36.31 L486.85 36.13 L487.96 36.22 L489.07 36.57 L490.18 37.19 L491.29 38.06 L492.40 39.19 L493.51 40.57 L494.62 42.20 L495.73 44.07 L496.85 46.17 L497.96 48.49 L499.07 51.03 L500.18 53.78 L501.29 56.72 L502.40 59.85 L503.51 63.15 L504.62 66.62 L505.73 70.23 L506.85 73.98 L507.96 77.86 L509.07 81.84 L510.18 85.93 L511.29 90.09 L512.40 94.33 L513.51 98.63 L514.62 102.98 L515.73 107.35 L516.85 111.75 L517.96 116.16 L519.07 120.56 L520.18 124.95 L521.29 129.31 L522.40 133.63 L523.51 137.92 L524.62 142.14 L525.73 146.31 L526.85 150.40 L527.96 154.41 L529.07 158.34 L530.18 162.18 L531.29 165.92 L532.40 169.56 L533.51 173.09 L534.62 176.52 L535.74 179.83 L536.85 183.03 L537.96 186.12 L539.07 189.09 L540.18 191.94 L541.29 194.67 L542.40 197.29 L543.51 199.79 L544.62 202.17 L545.74 204.44 L546.85 206.59 L547.96 208.64 L549.07 210.58 L550.18 212.41 L551.29 214.15 L552.40 215.78 L553.51 217.32 L554.62 218.76 L555.74 220.11 L556.85 221.38 L557.96 222.57 L559.07 223.68 L560.18 224.71 L561.29 225.67 L562.40 226.57 L563.51 227.40 L564.62 228.17 L565.74 228.88 L566.85 229.54 L567.96 230.14 L569.07 230.70 L570.18 231.21 L571.29 231.69 L572.40 232.12 L573.51 232.51 L574.62 232.88 L575.74 233.21 L576.85 233.51 L577.96 233.78 L579.07 234.03 L580.18 234.26 L581.29 234.46 L582.40 234.65 L583.51 234.81 L584.62 234.96 L585.74 235.10 L586.85 235.22 L587.96 235.33 L589.07 235.43 L590.18 235.52 L591.29 235.60 L592.40 235.67 L593.51 235.73 L594.62 235.79 L595.74 235.84 L596.85 235.88 L597.96 235.92 L599.07 235.95 L600.18 235.99" fill="none" stroke="#000" stroke-width="0.75"/>
<line x1="378.0" y1="236.2" x2="600.2" y2="236.2" stroke="#000" stroke-width="0.8"/>
<line x1="536.3" y1="8.0" x2="536.3" y2="246.3" stroke="#cdcdcd" stroke-width="1" stroke-dasharray="1 2"/>
<line x1="487.8" y1="8.0" x2="487.8" y2="246.3" stroke="#000" stroke-width="0.9" stroke-dasharray="3.2 2.2"/>
<line x1="491.2" y1="8.0" x2="491.2" y2="246.3" stroke="#000" stroke-width="0.9" stroke-dasharray="3.2 2.2"/>
<line x1="378.5" y1="246.5" x2="378.5" y2="248.9" stroke="#222" stroke-width="0.8"/>
<text x="378.5" y="254.9" font-size="6.3" fill="#5a5a5a" text-anchor="middle">-0.4</text>
<line x1="405.7" y1="246.5" x2="405.7" y2="248.9" stroke="#222" stroke-width="0.8"/>
<text x="405.7" y="254.9" font-size="6.3" fill="#5a5a5a" text-anchor="middle">-0.3</text>
<line x1="432.9" y1="246.5" x2="432.9" y2="248.9" stroke="#222" stroke-width="0.8"/>
<text x="432.9" y="254.9" font-size="6.3" fill="#5a5a5a" text-anchor="middle">-0.2</text>
<line x1="460.1" y1="246.5" x2="460.1" y2="248.9" stroke="#222" stroke-width="0.8"/>
<text x="460.1" y="254.9" font-size="6.3" fill="#5a5a5a" text-anchor="middle">-0.1</text>
<line x1="487.3" y1="246.5" x2="487.3" y2="248.9" stroke="#222" stroke-width="0.8"/>
<text x="487.3" y="254.9" font-size="6.3" fill="#5a5a5a" text-anchor="middle">0.0</text>
<line x1="514.5" y1="246.5" x2="514.5" y2="248.9" stroke="#222" stroke-width="0.8"/>
<text x="514.5" y="254.9" font-size="6.3" fill="#5a5a5a" text-anchor="middle">0.1</text>
<line x1="541.7" y1="246.5" x2="541.7" y2="248.9" stroke="#222" stroke-width="0.8"/>
<text x="541.7" y="254.9" font-size="6.3" fill="#5a5a5a" text-anchor="middle">0.2</text>
<line x1="568.9" y1="246.5" x2="568.9" y2="248.9" stroke="#222" stroke-width="0.8"/>
<text x="568.9" y="254.9" font-size="6.3" fill="#5a5a5a" text-anchor="middle">0.3</text>
<line x1="596.1" y1="246.5" x2="596.1" y2="248.9" stroke="#222" stroke-width="0.8"/>
<text x="596.1" y="254.9" font-size="6.3" fill="#5a5a5a" text-anchor="middle">0.4</text>
<line x1="364.9" y1="236.2" x2="367.3" y2="236.2" stroke="#222" stroke-width="0.8"/>
<text x="363.2" y="239.0" font-size="6.3" fill="#5a5a5a" text-anchor="end">0</text>
<line x1="364.9" y1="179.2" x2="367.3" y2="179.2" stroke="#222" stroke-width="0.8"/>
<text x="363.2" y="182.0" font-size="6.3" fill="#5a5a5a" text-anchor="end">1</text>
<line x1="364.9" y1="122.2" x2="367.3" y2="122.2" stroke="#222" stroke-width="0.8"/>
<text x="363.2" y="125.0" font-size="6.3" fill="#5a5a5a" text-anchor="end">2</text>
<line x1="364.9" y1="65.2" x2="367.3" y2="65.2" stroke="#222" stroke-width="0.8"/>
<text x="363.2" y="68.0" font-size="6.3" fill="#5a5a5a" text-anchor="end">3</text>
<line x1="364.9" y1="8.2" x2="367.3" y2="8.2" stroke="#222" stroke-width="0.8"/>
<text x="363.2" y="11.0" font-size="6.3" fill="#5a5a5a" text-anchor="end">4</text>
<text x="490.0" y="268.7" font-size="10.5" fill="#000" text-anchor="middle">Correlation between predicted and actual scores</text>
<text transform="translate(352.5 126.4) rotate(-90)" font-size="10.4" fill="#000" text-anchor="middle">Density</text>
<rect x="620.8" y="117.4" width="16.4" height="16.2" fill="#4672c6" stroke="#222" stroke-width="0.9"/>
<rect x="620.8" y="144.6" width="16.4" height="16.2" fill="#d9d9d9" stroke="#222" stroke-width="0.9"/>
<text x="644.6" y="124.2" font-size="7.5" fill="#000">Cerebellar</text>
<text x="644.6" y="132.9" font-size="7.5" fill="#000">Morphology</text>
<text x="644.6" y="150.2" font-size="7.5" fill="#000">Randomly</text>
<text x="644.6" y="159.3" font-size="7.5" fill="#000">Permuted</text>
<text x="644.6" y="168.5" font-size="7.5" fill="#000">Data</text>
<text x="338.4" y="13.0" font-size="16.6" fill="#000" textLength="15.0" lengthAdjust="spacingAndGlyphs">B)</text>
</g>
</svg>
</body></html>
